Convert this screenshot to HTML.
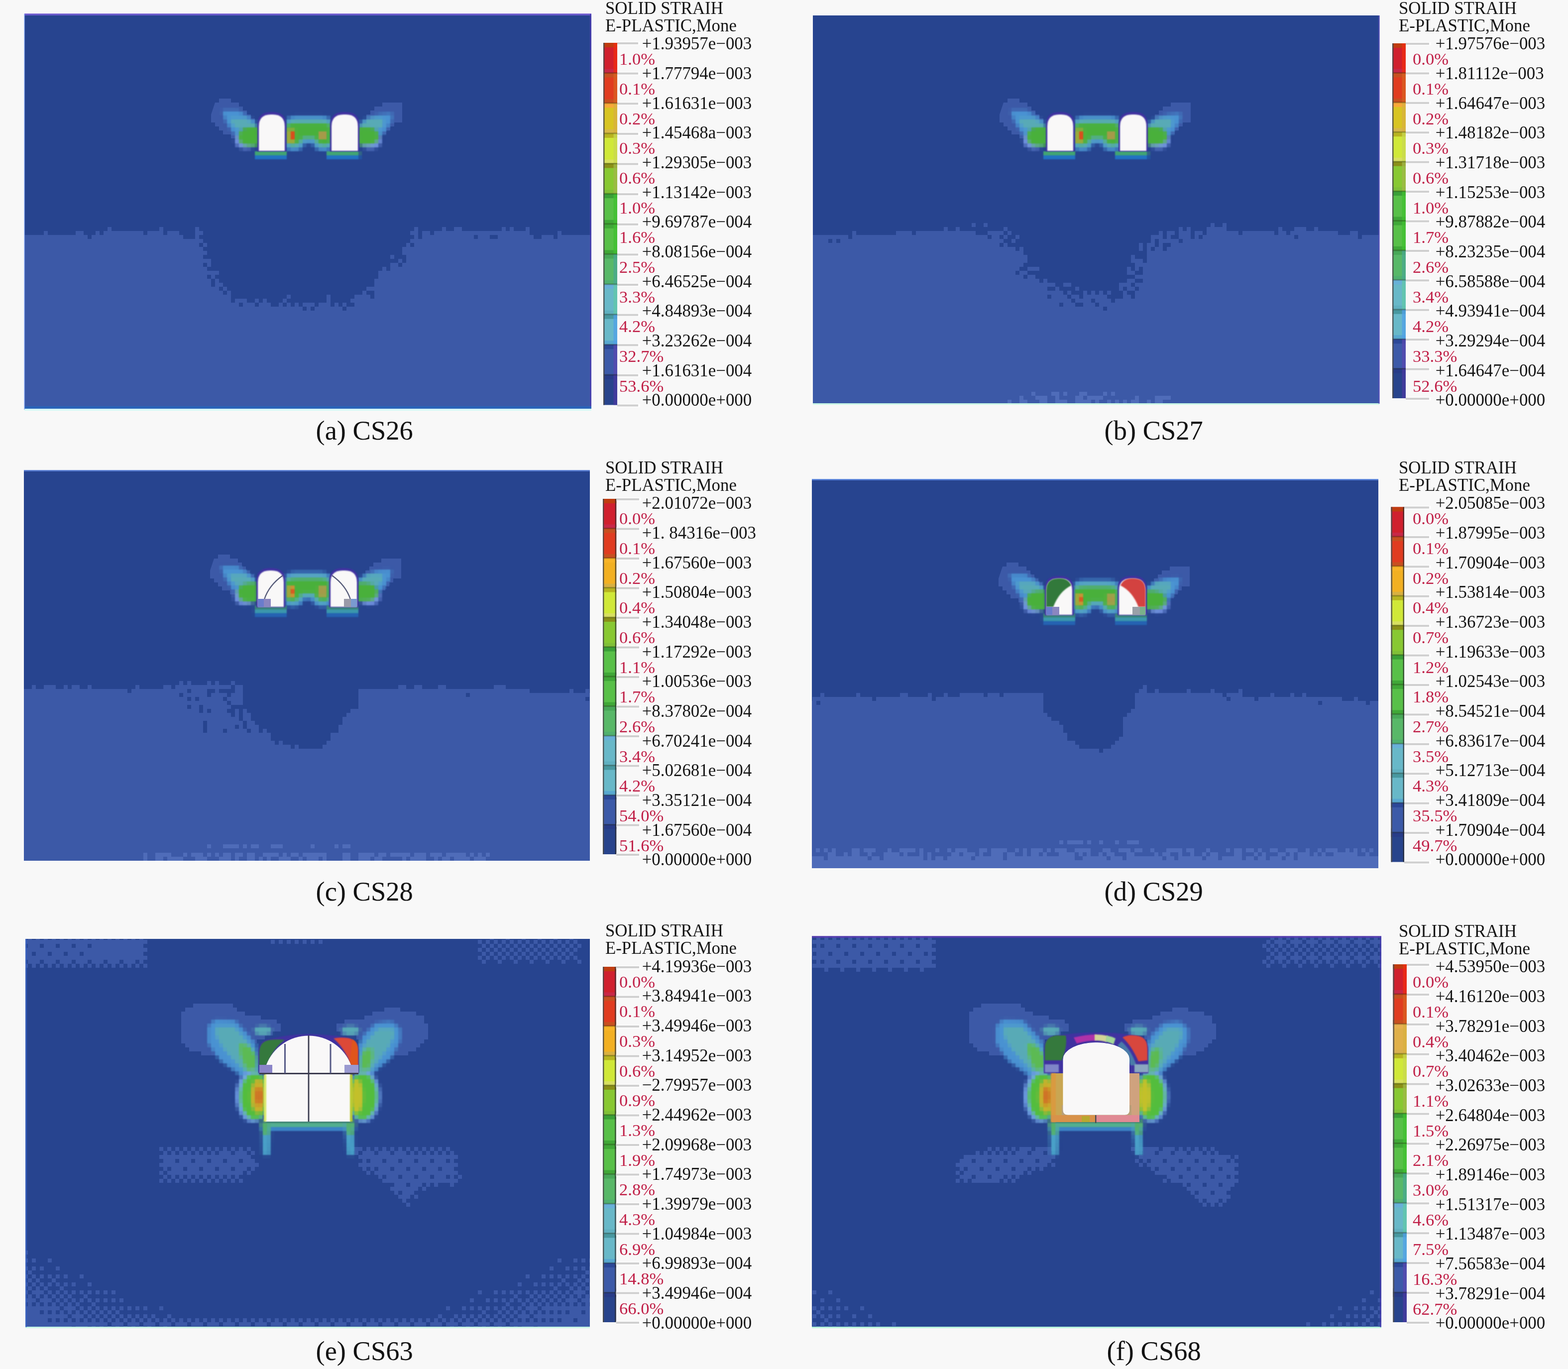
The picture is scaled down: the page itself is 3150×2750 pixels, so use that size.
<!DOCTYPE html>
<html lang="en"><head><meta charset="utf-8"><title>Solid strain contour plots</title>
<style>
html,body{margin:0;padding:0;background:#f8f8f8;}
body{width:3150px;height:2750px;overflow:hidden;position:relative;font-family:"Liberation Serif",serif;}
svg{position:absolute;left:0;top:0;display:block;}
text{font-family:"Liberation Serif",serif;white-space:pre;}
</style></head><body>
<svg xmlns="http://www.w3.org/2000/svg" width="3150" height="2750" viewBox="0 0 3150 2750">
<defs>
<filter id="b1" x="-30%" y="-30%" width="160%" height="160%"><feGaussianBlur stdDeviation="1.2"/></filter>
<filter id="b2" x="-30%" y="-30%" width="160%" height="160%"><feGaussianBlur stdDeviation="2.5"/></filter>
<filter id="b4" x="-30%" y="-30%" width="160%" height="160%"><feGaussianBlur stdDeviation="4"/></filter>
</defs>
<rect x="0" y="0" width="3150" height="2750" fill="#f8f8f8"/>
<clipPath id="cpa"><rect x="49" y="28" width="1139" height="795"/></clipPath>
<rect x="49" y="28" width="1139" height="795" fill="#27448f"/>
<g clip-path="url(#cpa)">
<path fill="#3c59a7" d="M216 456h8v8h-8zM320 456h8v8h-8zM392 456h8v8h-8zM832 456h8v8h-8zM888 456h8v8h-8zM912 456h16v8h-16zM1008 456h8v8h-8zM1024 456h8v8h-8zM1056 456h8v8h-8zM88 464h8v8h-8zM152 464h16v8h-16zM192 464h8v8h-8zM208 464h80v8h-80zM296 464h32v8h-32zM336 464h24v8h-24zM392 464h16v8h-16zM824 464h16v8h-16zM848 464h16v8h-16zM872 464h192v8h-192zM1120 464h8v8h-8zM48 472h128v8h-128zM184 472h184v8h-184zM392 472h8v8h-8zM832 472h8v8h-8zM848 472h104v8h-104zM960 472h24v8h-24zM1000 472h72v8h-72zM1088 472h24v8h-24zM1120 472h72v8h-72zM48 480h360v8h-360zM824 480h368v8h-368zM48 488h352v8h-352zM408 488h8v8h-8zM816 488h8v8h-8zM832 488h360v8h-360zM48 496h360v8h-360zM808 496h384v8h-384zM48 504h368v8h-368zM808 504h384v8h-384zM48 512h360v8h-360zM784 512h8v8h-8zM816 512h376v8h-376zM48 520h376v8h-376zM800 520h8v8h-8zM816 520h376v8h-376zM48 528h360v8h-360zM416 528h8v8h-8zM784 528h16v8h-16zM808 528h384v8h-384zM48 536h368v8h-368zM768 536h8v8h-8zM784 536h408v8h-408zM48 544h392v8h-392zM760 544h432v8h-432zM48 552h368v8h-368zM424 552h8v8h-8zM760 552h432v8h-432zM48 560h376v8h-376zM432 560h8v8h-8zM752 560h440v8h-440zM48 568h376v8h-376zM432 568h16v8h-16zM752 568h440v8h-440zM48 576h392v8h-392zM448 576h8v8h-8zM736 576h456v8h-456zM48 584h400v8h-400zM456 584h8v8h-8zM728 584h8v8h-8zM752 584h440v8h-440zM48 592h416v8h-416zM576 592h8v8h-8zM656 592h8v8h-8zM712 592h32v8h-32zM752 592h440v8h-440zM48 600h416v8h-416zM472 600h24v8h-24zM512 600h8v8h-8zM528 600h8v8h-8zM568 600h8v8h-8zM656 600h8v8h-8zM704 600h488v8h-488zM48 608h432v8h-432zM488 608h24v8h-24zM520 608h24v8h-24zM560 608h8v8h-8zM576 608h8v8h-8zM592 608h8v8h-8zM608 608h24v8h-24zM640 608h24v8h-24zM672 608h8v8h-8zM688 608h8v8h-8zM712 608h480v8h-480zM48 616h560v8h-560zM616 616h8v8h-8zM632 616h56v8h-56zM696 616h496v8h-496zM48 624h1144v8h-1144zM48 632h1144v8h-1144zM48 640h1144v8h-1144zM48 648h1144v8h-1144zM48 656h1144v8h-1144zM48 664h1144v8h-1144zM48 672h1144v8h-1144zM48 680h1144v8h-1144zM48 688h1144v8h-1144zM48 696h1144v8h-1144zM48 704h1144v8h-1144zM48 712h1144v8h-1144zM48 720h1144v8h-1144zM48 728h1144v8h-1144zM48 736h1144v8h-1144zM48 744h1144v8h-1144zM48 752h1144v8h-1144zM48 760h1144v8h-1144zM48 768h1144v8h-1144zM48 776h1144v8h-1144zM48 784h1144v8h-1144zM48 792h1144v8h-1144zM48 800h1144v8h-1144zM48 808h1144v8h-1144zM48 816h1144v8h-1144z"/>
<g transform="translate(520,230)">
<path d="M-88 -24H-80V-32H-72V-32H-64V-32H-56V-24H-48V-24H-40V-16H-32V-8H-24V0H-16V8H-8V16H-8V40H-16V40H-24V40H-32V48H-40V48H-48V48H-56V40H-64V40H-72V32H-80V24H-88V16H-96V8H-96V0Z" fill="#3c59a7"/>
<path d="M208 16H216V8H216V0H224V-8H232V-16H240V-16H248V-24H280V-24H288V-16H288V16H280V16H272V24H264V32H256V40H248V40H240V48H232V48H224V48H216V40H208V40Z" fill="#3c59a7"/>
<defs><filter id="px520_230" filterUnits="userSpaceOnUse" x="-112" y="-54" width="424" height="160" color-interpolation-filters="sRGB"><feFlood x="-109" y="-51" width="2" height="2" flood-color="#000"/><feComposite width="8" height="8"/><feTile result="a"/><feComposite in="SourceGraphic" in2="a" operator="in"/><feMorphology operator="dilate" radius="3"/><feGaussianBlur stdDeviation="1.1"/></filter></defs>
<g filter="url(#px520_230)">
<g filter="url(#b2)">
<polygon points="-74,-8 -42,-8 -18,6 -4,18 -4,30 -30,30 -44,46 -56,30 -66,14" fill="#4a92d2"/>
<polygon points="-58,8 -26,8 -6,22 -6,30 -40,30 -52,22" fill="#58aab6"/>
<polygon points="268,-2 240,0 216,8 202,18 202,30 230,30 244,44 256,30 266,14" fill="#4a92d2"/>
<polygon points="250,8 222,8 204,22 204,30 240,30 250,22" fill="#58aab6"/>
<ellipse cx="-26" cy="52" rx="22" ry="17" fill="#7393e4"/>
<ellipse cx="224" cy="52" rx="22" ry="17" fill="#7393e4"/>
<path d="M54 16Q56 4 74 3H126Q144 4 146 16V66Q140 74 124 72Q112 70 108 58H92Q88 70 76 72Q60 74 54 66Z" fill="#4a92d2"/>
<path d="M56 20Q58 10 76 9H124Q142 10 144 20V60Q138 68 124 66Q114 62 110 52H90Q86 62 76 66Q62 68 56 60Z" fill="#58aab6"/>
</g>
<g filter="url(#b2)">
<path d="M0 25H-16Q-40 27 -41 44Q-40 62 -20 63H0Z" fill="#49b03a"/>
<path d="M199 25H216Q240 27 241 44Q240 60 220 61H199Z" fill="#49b03a"/>
<path d="M56 24Q58 17 76 17H124Q142 17 144 24V56Q138 62 126 60Q116 56 112 46H88Q84 56 74 60Q62 62 56 56Z" fill="#49b03a"/>
</g>
<g filter="url(#b1)">
<rect x="58" y="30" width="16" height="26" fill="#9aa83a"/>
<rect x="64" y="34" width="8" height="16" fill="#d8501c"/>
<rect x="120" y="33" width="16" height="18" fill="#a59a48"/>
<rect x="-8" y="74" width="65" height="9" fill="#43a472"/>
<rect x="-8" y="82" width="65" height="8" fill="#2272c2"/>
<rect x="137" y="74" width="66" height="9" fill="#43a472"/>
<rect x="137" y="82" width="66" height="8" fill="#2272c2"/>
</g>
</g>
<path d="M-3 74V22Q-3 -5 24 -5H28Q55 -5 55 22V74Z" fill="#4030a0" filter="url(#b1)"/>
<path d="M0 73V24Q0 0 24 0H28Q52 0 52 24V73Z" fill="#f9f8f8" filter="url(#b1)"/>
<path d="M143 74V22Q143 -5 170 -5H175Q202 -5 202 22V74Z" fill="#4030a0" filter="url(#b1)"/>
<path d="M146 73V24Q146 0 170 0H175Q199 0 199 24V73Z" fill="#f9f8f8" filter="url(#b1)"/>
</g>
</g>
<rect x="49" y="27" width="1139" height="4" fill="#7a5fd8" opacity="0.8"/>
<rect x="1185" y="28" width="3" height="795" fill="#4a3cb0" opacity="0.8"/>
<rect x="49" y="816" width="1139" height="5" fill="#2a63b8"/>
<rect x="49" y="821" width="1139" height="4" fill="#d8fdf6"/>
<rect x="48" y="28" width="2" height="795" fill="#8fb0f8" opacity="0.7"/>
<clipPath id="cpb"><rect x="1633" y="31" width="1138" height="780"/></clipPath>
<rect x="1633" y="31" width="1138" height="780" fill="#27448f"/>
<g clip-path="url(#cpb)">
<path fill="#3c59a7" d="M1952 448h8v8h-8zM1976 448h8v8h-8zM2432 448h8v8h-8zM2456 448h8v8h-8zM1896 456h8v8h-8zM1920 456h8v8h-8zM2016 456h8v8h-8zM2368 456h8v8h-8zM2384 456h8v8h-8zM2424 456h40v8h-40zM2568 456h8v8h-8zM2600 456h24v8h-24zM2640 456h8v8h-8zM1712 464h8v8h-8zM1800 464h32v8h-32zM1840 464h120v8h-120zM1984 464h32v8h-32zM2024 464h8v8h-8zM2328 464h8v8h-8zM2344 464h16v8h-16zM2368 464h24v8h-24zM2400 464h16v8h-16zM2424 464h64v8h-64zM2496 464h64v8h-64zM2568 464h16v8h-16zM2592 464h96v8h-96zM2712 464h16v8h-16zM1632 472h72v8h-72zM1712 472h272v8h-272zM1992 472h16v8h-16zM2016 472h8v8h-8zM2040 472h8v8h-8zM2312 472h24v8h-24zM2344 472h8v8h-8zM2368 472h24v8h-24zM2400 472h8v8h-8zM2416 472h184v8h-184zM2608 472h120v8h-120zM2736 472h40v8h-40zM1632 480h32v8h-32zM1672 480h8v8h-8zM1688 480h328v8h-328zM2032 480h8v8h-8zM2312 480h8v8h-8zM2328 480h40v8h-40zM2376 480h400v8h-400zM1632 488h376v8h-376zM2016 488h8v8h-8zM2288 488h8v8h-8zM2304 488h16v8h-16zM2328 488h8v8h-8zM2352 488h424v8h-424zM1632 496h408v8h-408zM2048 496h8v8h-8zM2288 496h8v8h-8zM2304 496h8v8h-8zM2320 496h16v8h-16zM2344 496h432v8h-432zM1632 504h424v8h-424zM2304 504h472v8h-472zM1632 512h432v8h-432zM2272 512h8v8h-8zM2304 512h472v8h-472zM1632 520h432v8h-432zM2272 520h24v8h-24zM2304 520h472v8h-472zM1632 528h424v8h-424zM2280 528h496v8h-496zM1632 536h416v8h-416zM2064 536h24v8h-24zM2264 536h8v8h-8zM2280 536h8v8h-8zM2296 536h480v8h-480zM1632 544h408v8h-408zM2048 544h16v8h-16zM2264 544h16v8h-16zM2296 544h480v8h-480zM1632 552h424v8h-424zM2064 552h16v8h-16zM2280 552h496v8h-496zM1632 560h456v8h-456zM2096 560h8v8h-8zM2264 560h16v8h-16zM2296 560h480v8h-480zM1632 568h488v8h-488zM2136 568h16v8h-16zM2248 568h24v8h-24zM2280 568h496v8h-496zM1632 576h472v8h-472zM2120 576h8v8h-8zM2160 576h8v8h-8zM2248 576h8v8h-8zM2264 576h16v8h-16zM2288 576h488v8h-488zM1632 584h504v8h-504zM2144 584h8v8h-8zM2176 584h8v8h-8zM2192 584h8v8h-8zM2208 584h8v8h-8zM2224 584h8v8h-8zM2256 584h8v8h-8zM2280 584h496v8h-496zM1632 592h472v8h-472zM2112 592h32v8h-32zM2152 592h16v8h-16zM2176 592h48v8h-48zM2256 592h16v8h-16zM2280 592h496v8h-496zM1632 600h520v8h-520zM2160 600h32v8h-32zM2200 600h32v8h-32zM2240 600h536v8h-536zM1632 608h496v8h-496zM2136 608h24v8h-24zM2176 608h24v8h-24zM2208 608h568v8h-568zM1632 616h584v8h-584zM2224 616h552v8h-552zM1632 624h1144v8h-1144zM1632 632h1144v8h-1144zM1632 640h1144v8h-1144zM1632 648h1144v8h-1144zM1632 656h1144v8h-1144zM1632 664h1144v8h-1144zM1632 672h1144v8h-1144zM1632 680h1144v8h-1144zM1632 688h1144v8h-1144zM1632 696h1144v8h-1144zM1632 704h1144v8h-1144zM1632 712h1144v8h-1144zM1632 720h1144v8h-1144zM1632 728h1144v8h-1144zM1632 736h1144v8h-1144zM1632 744h1144v8h-1144zM1632 752h1144v8h-1144zM1632 760h1144v8h-1144zM1632 768h1144v8h-1144zM1632 776h1144v8h-1144zM1632 784h1144v8h-1144zM1632 792h1144v8h-1144zM1632 800h1144v8h-1144zM1632 808h1144v8h-1144z"/>
<g transform="translate(2104,230)">
<path d="M-88 -24H-80V-32H-72V-32H-64V-32H-56V-24H-48V-24H-40V-16H-32V-8H-24V0H-16V8H-8V16H-8V40H-16V40H-24V40H-32V48H-40V48H-48V48H-56V40H-64V40H-72V32H-80V24H-88V16H-96V8H-96V0Z" fill="#3c59a7"/>
<path d="M208 16H216V8H216V0H224V-8H232V-16H240V-16H248V-24H280V-24H288V-16H288V16H280V16H272V24H264V32H256V40H248V40H240V48H232V48H224V48H216V40H208V40Z" fill="#3c59a7"/>
<defs><filter id="px2104_230" filterUnits="userSpaceOnUse" x="-112" y="-54" width="424" height="160" color-interpolation-filters="sRGB"><feFlood x="-109" y="-51" width="2" height="2" flood-color="#000"/><feComposite width="8" height="8"/><feTile result="a"/><feComposite in="SourceGraphic" in2="a" operator="in"/><feMorphology operator="dilate" radius="3"/><feGaussianBlur stdDeviation="1.1"/></filter></defs>
<g filter="url(#px2104_230)">
<g filter="url(#b2)">
<polygon points="-74,-8 -42,-8 -18,6 -4,18 -4,30 -30,30 -44,46 -56,30 -66,14" fill="#4a92d2"/>
<polygon points="-58,8 -26,8 -6,22 -6,30 -40,30 -52,22" fill="#58aab6"/>
<polygon points="268,-2 240,0 216,8 202,18 202,30 230,30 244,44 256,30 266,14" fill="#4a92d2"/>
<polygon points="250,8 222,8 204,22 204,30 240,30 250,22" fill="#58aab6"/>
<ellipse cx="-26" cy="52" rx="22" ry="17" fill="#7393e4"/>
<ellipse cx="224" cy="52" rx="22" ry="17" fill="#7393e4"/>
<path d="M54 16Q56 4 74 3H126Q144 4 146 16V66Q140 74 124 72Q112 70 108 58H92Q88 70 76 72Q60 74 54 66Z" fill="#4a92d2"/>
<path d="M56 20Q58 10 76 9H124Q142 10 144 20V60Q138 68 124 66Q114 62 110 52H90Q86 62 76 66Q62 68 56 60Z" fill="#58aab6"/>
</g>
<g filter="url(#b2)">
<path d="M0 25H-16Q-40 27 -41 44Q-40 62 -20 63H0Z" fill="#49b03a"/>
<path d="M199 25H216Q240 27 241 44Q240 60 220 61H199Z" fill="#49b03a"/>
<path d="M56 24Q58 17 76 17H124Q142 17 144 24V56Q138 62 126 60Q116 56 112 46H88Q84 56 74 60Q62 62 56 56Z" fill="#49b03a"/>
</g>
<g filter="url(#b1)">
<rect x="58" y="30" width="16" height="26" fill="#9aa83a"/>
<rect x="64" y="34" width="8" height="16" fill="#d8501c"/>
<rect x="120" y="33" width="16" height="18" fill="#a59a48"/>
<rect x="-8" y="74" width="65" height="9" fill="#43a472"/>
<rect x="-8" y="82" width="65" height="8" fill="#2272c2"/>
<rect x="137" y="74" width="66" height="9" fill="#43a472"/>
<rect x="137" y="82" width="66" height="8" fill="#2272c2"/>
</g>
</g>
<path d="M-3 74V22Q-3 -5 24 -5H28Q55 -5 55 22V74Z" fill="#4030a0" filter="url(#b1)"/>
<path d="M0 73V24Q0 0 24 0H28Q52 0 52 24V73Z" fill="#f9f8f8" filter="url(#b1)"/>
<path d="M143 74V22Q143 -5 170 -5H175Q202 -5 202 22V74Z" fill="#4030a0" filter="url(#b1)"/>
<path d="M146 73V24Q146 0 170 0H175Q199 0 199 24V73Z" fill="#f9f8f8" filter="url(#b1)"/>
</g>
<path fill="#4f6cb9" d="M2048 795h8v8h-8zM2080 795h24v8h-24zM2120 795h8v8h-8zM2160 795h16v8h-16zM2184 795h32v8h-32zM2280 795h8v8h-8zM2320 795h32v8h-32zM2024 803h8v8h-8zM2048 803h16v8h-16zM2088 803h16v8h-16zM2120 803h24v8h-24zM2160 803h32v8h-32zM2200 803h8v8h-8zM2224 803h8v8h-8zM2240 803h8v8h-8zM2256 803h8v8h-8zM2272 803h16v8h-16zM2304 803h8v8h-8zM2320 803h16v8h-16z"/>
<path fill="#4f6cb9" d="M2072 787h8v8h-8zM2112 787h16v8h-16zM2136 787h8v8h-8zM2168 787h16v8h-16zM2216 787h8v8h-8zM2232 787h8v8h-8z"/>
</g>
<rect x="1633" y="810" width="1138" height="3" fill="#c9f7e6"/>
<rect x="2769" y="31" width="3" height="780" fill="#5a4cc0" opacity="0.6"/>
<clipPath id="cpc"><rect x="48" y="945" width="1137" height="784"/></clipPath>
<rect x="48" y="945" width="1137" height="784" fill="#27448f"/>
<g clip-path="url(#cpc)">
<path fill="#3c59a7" d="M360 1368h8v8h-8zM376 1368h8v8h-8zM416 1368h8v8h-8zM432 1368h8v8h-8zM464 1368h8v8h-8zM64 1376h8v8h-8zM88 1376h24v8h-24zM128 1376h8v8h-8zM144 1376h16v8h-16zM176 1376h8v8h-8zM272 1376h8v8h-8zM328 1376h16v8h-16zM352 1376h112v8h-112zM472 1376h16v8h-16zM800 1376h16v8h-16zM832 1376h16v8h-16zM880 1376h16v8h-16zM992 1376h24v8h-24zM48 1384h208v8h-208zM264 1384h112v8h-112zM384 1384h56v8h-56zM448 1384h8v8h-8zM464 1384h24v8h-24zM720 1384h344v8h-344zM1144 1384h8v8h-8zM1176 1384h8v8h-8zM48 1392h440v8h-440zM720 1392h216v8h-216zM944 1392h248v8h-248zM48 1400h440v8h-440zM720 1400h456v8h-456zM1184 1400h8v8h-8zM48 1408h448v8h-448zM720 1408h472v8h-472zM48 1416h448v8h-448zM720 1416h472v8h-472zM48 1424h448v8h-448zM704 1424h488v8h-488zM48 1432h456v8h-456zM696 1432h496v8h-496zM48 1440h456v8h-456zM688 1440h504v8h-504zM48 1448h464v8h-464zM688 1448h504v8h-504zM48 1456h472v8h-472zM680 1456h512v8h-512zM48 1464h472v8h-472zM528 1464h8v8h-8zM680 1464h512v8h-512zM48 1472h496v8h-496zM664 1472h528v8h-528zM48 1480h496v8h-496zM664 1480h528v8h-528zM48 1488h504v8h-504zM560 1488h8v8h-8zM656 1488h536v8h-536zM48 1496h536v8h-536zM592 1496h8v8h-8zM648 1496h544v8h-544zM48 1504h1144v8h-1144zM48 1512h1144v8h-1144zM48 1520h1144v8h-1144zM48 1528h1144v8h-1144zM48 1536h1144v8h-1144zM48 1544h1144v8h-1144zM48 1552h1144v8h-1144zM48 1560h1144v8h-1144zM48 1568h1144v8h-1144zM48 1576h1144v8h-1144zM48 1584h1144v8h-1144zM48 1592h1144v8h-1144zM48 1600h1144v8h-1144zM48 1608h1144v8h-1144zM48 1616h1144v8h-1144zM48 1624h1144v8h-1144zM48 1632h1144v8h-1144zM48 1640h1144v8h-1144zM48 1648h1144v8h-1144zM48 1656h1144v8h-1144zM48 1664h1144v8h-1144zM48 1672h1144v8h-1144zM48 1680h1144v8h-1144zM48 1688h1144v8h-1144zM48 1696h1144v8h-1144zM48 1704h1144v8h-1144zM48 1712h1144v8h-1144zM48 1720h1144v8h-1144zM48 1728h1144v8h-1144z"/>
<path fill="#27448f" d="M416 1384h16v8h-16zM448 1384h8v8h-8zM464 1384h8v8h-8zM360 1392h8v8h-8zM416 1392h8v8h-8zM456 1392h8v8h-8zM488 1392h8v8h-8zM376 1400h8v8h-8zM392 1400h8v8h-8zM448 1400h8v8h-8zM488 1400h8v8h-8zM456 1408h8v8h-8zM488 1408h8v8h-8zM376 1416h8v8h-8zM400 1416h8v8h-8zM464 1416h40v8h-40zM400 1424h8v8h-8zM416 1424h8v8h-8zM456 1424h16v8h-16zM480 1424h8v8h-8zM496 1424h8v8h-8zM464 1432h8v8h-8zM480 1432h8v8h-8zM480 1440h8v8h-8zM408 1448h8v8h-8zM488 1448h8v8h-8zM408 1456h8v8h-8zM472 1456h8v8h-8zM488 1456h8v8h-8zM408 1464h8v8h-8zM448 1464h8v8h-8zM496 1464h8v8h-8z"/>
<g transform="translate(518,1146)">
<path d="M-88 -24H-80V-32H-72V-32H-64V-32H-56V-24H-48V-24H-40V-16H-32V-8H-24V0H-16V8H-8V16H-8V40H-16V40H-24V40H-32V48H-40V48H-48V48H-56V40H-64V40H-72V32H-80V24H-88V16H-96V8H-96V0Z" fill="#3c59a7"/>
<path d="M208 16H216V8H216V0H224V-8H232V-16H240V-16H248V-24H280V-24H288V-16H288V16H280V16H272V24H264V32H256V40H248V40H240V48H232V48H224V48H216V40H208V40Z" fill="#3c59a7"/>
<defs><filter id="px518_1146" filterUnits="userSpaceOnUse" x="-118" y="-50" width="424" height="160" color-interpolation-filters="sRGB"><feFlood x="-115" y="-47" width="2" height="2" flood-color="#000"/><feComposite width="8" height="8"/><feTile result="a"/><feComposite in="SourceGraphic" in2="a" operator="in"/><feMorphology operator="dilate" radius="3"/><feGaussianBlur stdDeviation="1.1"/></filter></defs>
<g filter="url(#px518_1146)">
<g filter="url(#b2)">
<polygon points="-74,-8 -42,-8 -18,6 -4,18 -4,30 -30,30 -44,46 -56,30 -66,14" fill="#4a92d2"/>
<polygon points="-58,8 -26,8 -6,22 -6,30 -40,30 -52,22" fill="#58aab6"/>
<polygon points="268,-2 240,0 216,8 202,18 202,30 230,30 244,44 256,30 266,14" fill="#4a92d2"/>
<polygon points="250,8 222,8 204,22 204,30 240,30 250,22" fill="#58aab6"/>
<ellipse cx="-26" cy="52" rx="22" ry="17" fill="#7393e4"/>
<ellipse cx="224" cy="52" rx="22" ry="17" fill="#7393e4"/>
<path d="M54 16Q56 4 74 3H126Q144 4 146 16V66Q140 74 124 72Q112 70 108 58H92Q88 70 76 72Q60 74 54 66Z" fill="#4a92d2"/>
<path d="M56 20Q58 10 76 9H124Q142 10 144 20V60Q138 68 124 66Q114 62 110 52H90Q86 62 76 66Q62 68 56 60Z" fill="#58aab6"/>
</g>
<g filter="url(#b2)">
<path d="M0 25H-16Q-40 27 -41 44Q-40 62 -20 63H0Z" fill="#49b03a"/>
<path d="M199 25H216Q240 27 241 44Q240 60 220 61H199Z" fill="#49b03a"/>
<path d="M56 24Q58 17 76 17H124Q142 17 144 24V56Q138 62 126 60Q116 56 112 46H88Q84 56 74 60Q62 62 56 56Z" fill="#49b03a"/>
</g>
<g filter="url(#b1)">
<rect x="58" y="30" width="16" height="26" fill="#9aa83a"/>
<rect x="64" y="34" width="8" height="16" fill="#d8501c"/>
<rect x="120" y="33" width="16" height="18" fill="#a59a48"/>
<rect x="-8" y="74" width="65" height="9" fill="#43a472"/>
<rect x="-8" y="82" width="65" height="8" fill="#2272c2"/>
<rect x="137" y="74" width="66" height="9" fill="#43a472"/>
<rect x="137" y="82" width="66" height="8" fill="#2272c2"/>
</g>
</g>
<path d="M-3 74V22Q-3 -5 24 -5H28Q55 -5 55 22V74Z" fill="#4030a0" filter="url(#b1)"/>
<path d="M0 73V24Q0 0 24 0H28Q52 0 52 24V73Z" fill="#f9f8f8" filter="url(#b1)"/>
<path d="M143 74V22Q143 -5 170 -5H175Q202 -5 202 22V74Z" fill="#4030a0" filter="url(#b1)"/>
<path d="M146 73V24Q146 0 170 0H175Q199 0 199 24V73Z" fill="#f9f8f8" filter="url(#b1)"/>
<g fill="none" stroke="#555a78" stroke-width="2.2">
<path d="M13 58Q22 30 50 10"/>
<path d="M186 58Q177 30 149 10"/>
</g>
<rect x="0" y="57" width="26" height="16" fill="#6a7ccc"/>
<rect x="12" y="57" width="14" height="16" fill="#8a86c0"/>
<rect x="173" y="57" width="26" height="16" fill="#7a9ad0"/>
<rect x="173" y="57" width="14" height="16" fill="#9a9aa8"/>
</g>
<path fill="#4f6cb9" d="M288 1713h8v8h-8zM312 1713h32v8h-32zM368 1713h8v8h-8zM384 1713h24v8h-24zM416 1713h8v8h-8zM432 1713h8v8h-8zM448 1713h16v8h-16zM472 1713h16v8h-16zM496 1713h16v8h-16zM528 1713h32v8h-32zM568 1713h8v8h-8zM584 1713h16v8h-16zM608 1713h48v8h-48zM688 1713h16v8h-16zM720 1713h32v8h-32zM760 1713h16v8h-16zM784 1713h40v8h-40zM832 1713h24v8h-24zM864 1713h24v8h-24zM896 1713h40v8h-40zM944 1713h8v8h-8zM960 1713h8v8h-8zM976 1713h8v8h-8zM288 1721h8v8h-8zM312 1721h16v8h-16zM336 1721h32v8h-32zM392 1721h24v8h-24zM440 1721h24v8h-24zM472 1721h8v8h-8zM496 1721h16v8h-16zM520 1721h8v8h-8zM536 1721h8v8h-8zM560 1721h24v8h-24zM600 1721h8v8h-8zM616 1721h24v8h-24zM648 1721h8v8h-8zM688 1721h16v8h-16zM720 1721h24v8h-24zM752 1721h16v8h-16zM808 1721h8v8h-8zM824 1721h32v8h-32zM872 1721h8v8h-8zM888 1721h16v8h-16zM912 1721h32v8h-32zM952 1721h24v8h-24z"/>
<path fill="#4f6cb9" d="M416 1696h8v8h-8zM448 1696h32v8h-32zM488 1696h8v8h-8zM504 1696h16v8h-16zM544 1696h24v8h-24zM624 1696h8v8h-8zM672 1696h8v8h-8zM688 1696h16v8h-16z"/>
</g>
<rect x="48" y="944" width="1137" height="3" fill="#5a7fd8" opacity="0.8"/>
<clipPath id="cpd"><rect x="1631" y="963" width="1138" height="781"/></clipPath>
<rect x="1631" y="963" width="1138" height="781" fill="#27448f"/>
<g clip-path="url(#cpd)">
<path fill="#3c59a7" d="M2296 1376h8v8h-8zM2288 1384h16v8h-16zM2320 1384h8v8h-8zM2384 1384h8v8h-8zM2432 1384h8v8h-8zM2488 1384h8v8h-8zM1648 1392h8v8h-8zM1720 1392h8v8h-8zM1808 1392h16v8h-16zM1864 1392h8v8h-8zM1896 1392h8v8h-8zM1928 1392h48v8h-48zM1984 1392h24v8h-24zM2016 1392h80v8h-80zM2280 1392h176v8h-176zM2464 1392h32v8h-32zM2552 1392h8v8h-8zM2592 1392h8v8h-8zM2616 1392h8v8h-8zM1632 1400h120v8h-120zM1760 1400h112v8h-112zM1880 1400h216v8h-216zM2280 1400h184v8h-184zM2472 1400h48v8h-48zM2528 1400h168v8h-168zM2720 1400h8v8h-8zM1624 1408h16v8h-16zM1648 1408h448v8h-448zM2280 1408h368v8h-368zM2656 1408h88v8h-88zM2752 1408h24v8h-24zM1624 1416h472v8h-472zM2280 1416h496v8h-496zM1624 1424h472v8h-472zM2272 1424h504v8h-504zM1624 1432h480v8h-480zM2264 1432h512v8h-512zM1624 1440h488v8h-488zM2256 1440h520v8h-520zM1624 1448h504v8h-504zM2256 1448h520v8h-520zM1624 1456h512v8h-512zM2256 1456h520v8h-520zM1624 1464h512v8h-512zM2256 1464h520v8h-520zM1624 1472h520v8h-520zM2256 1472h520v8h-520zM1624 1480h520v8h-520zM2248 1480h528v8h-528zM1624 1488h536v8h-536zM2240 1488h536v8h-536zM1624 1496h544v8h-544zM2232 1496h544v8h-544zM1624 1504h584v8h-584zM2216 1504h560v8h-560zM1624 1512h1152v8h-1152zM1624 1520h1152v8h-1152zM1624 1528h1152v8h-1152zM1624 1536h1152v8h-1152zM1624 1544h1152v8h-1152zM1624 1552h1152v8h-1152zM1624 1560h1152v8h-1152zM1624 1568h1152v8h-1152zM1624 1576h1152v8h-1152zM1624 1584h1152v8h-1152zM1624 1592h1152v8h-1152zM1624 1600h1152v8h-1152zM1624 1608h1152v8h-1152zM1624 1616h1152v8h-1152zM1624 1624h1152v8h-1152zM1624 1632h1152v8h-1152zM1624 1640h1152v8h-1152zM1624 1648h1152v8h-1152zM1624 1656h1152v8h-1152zM1624 1664h1152v8h-1152zM1624 1672h1152v8h-1152zM1624 1680h1152v8h-1152zM1624 1688h1152v8h-1152zM1624 1696h1152v8h-1152zM1624 1704h1152v8h-1152zM1624 1712h1152v8h-1152zM1624 1720h1152v8h-1152zM1624 1728h1152v8h-1152zM1624 1736h1152v8h-1152z"/>
<g transform="translate(2102,1162)">
<path d="M-88 -24H-80V-32H-72V-32H-64V-32H-56V-24H-48V-24H-40V-16H-32V-8H-24V0H-16V8H-8V16H-8V40H-16V40H-24V40H-32V48H-40V48H-48V48H-56V40H-64V40H-72V32H-80V24H-88V16H-96V8H-96V0Z" fill="#3c59a7"/>
<path d="M208 16H216V8H216V0H224V-8H232V-16H240V-16H248V-24H280V-24H288V-16H288V16H280V16H272V24H264V32H256V40H248V40H240V48H232V48H224V48H216V40H208V40Z" fill="#3c59a7"/>
<defs><filter id="px2102_1162" filterUnits="userSpaceOnUse" x="-118" y="-50" width="424" height="160" color-interpolation-filters="sRGB"><feFlood x="-115" y="-47" width="2" height="2" flood-color="#000"/><feComposite width="8" height="8"/><feTile result="a"/><feComposite in="SourceGraphic" in2="a" operator="in"/><feMorphology operator="dilate" radius="3"/><feGaussianBlur stdDeviation="1.1"/></filter></defs>
<g filter="url(#px2102_1162)">
<g filter="url(#b2)">
<polygon points="-74,-8 -42,-8 -18,6 -4,18 -4,30 -30,30 -44,46 -56,30 -66,14" fill="#4a92d2"/>
<polygon points="-58,8 -26,8 -6,22 -6,30 -40,30 -52,22" fill="#58aab6"/>
<polygon points="268,-2 240,0 216,8 202,18 202,30 230,30 244,44 256,30 266,14" fill="#4a92d2"/>
<polygon points="250,8 222,8 204,22 204,30 240,30 250,22" fill="#58aab6"/>
<ellipse cx="-26" cy="52" rx="22" ry="17" fill="#7393e4"/>
<ellipse cx="224" cy="52" rx="22" ry="17" fill="#7393e4"/>
<path d="M54 16Q56 4 74 3H126Q144 4 146 16V66Q140 74 124 72Q112 70 108 58H92Q88 70 76 72Q60 74 54 66Z" fill="#4a92d2"/>
<path d="M56 20Q58 10 76 9H124Q142 10 144 20V60Q138 68 124 66Q114 62 110 52H90Q86 62 76 66Q62 68 56 60Z" fill="#58aab6"/>
</g>
<g filter="url(#b2)">
<path d="M0 25H-16Q-40 27 -41 44Q-40 62 -20 63H0Z" fill="#49b03a"/>
<path d="M199 25H216Q240 27 241 44Q240 60 220 61H199Z" fill="#49b03a"/>
<path d="M56 24Q58 17 76 17H124Q142 17 144 24V56Q138 62 126 60Q116 56 112 46H88Q84 56 74 60Q62 62 56 56Z" fill="#49b03a"/>
</g>
<g filter="url(#b1)">
<rect x="58" y="30" width="16" height="26" fill="#9aa83a"/>
<rect x="64" y="34" width="8" height="16" fill="#d8501c"/>
<rect x="120" y="33" width="16" height="18" fill="#a59a48"/>
<rect x="-8" y="74" width="65" height="9" fill="#43a472"/>
<rect x="-8" y="82" width="65" height="8" fill="#2272c2"/>
<rect x="137" y="74" width="66" height="9" fill="#43a472"/>
<rect x="137" y="82" width="66" height="8" fill="#2272c2"/>
</g>
</g>
<path d="M-3 74V22Q-3 -5 24 -5H28Q55 -5 55 22V74Z" fill="#4030a0" filter="url(#b1)"/>
<path d="M0 73V24Q0 0 24 0H28Q52 0 52 24V73Z" fill="#f9f8f8" filter="url(#b1)"/>
<path d="M143 74V22Q143 -5 170 -5H175Q202 -5 202 22V74Z" fill="#4030a0" filter="url(#b1)"/>
<path d="M146 73V24Q146 0 170 0H175Q199 0 199 24V73Z" fill="#f9f8f8" filter="url(#b1)"/>
<g filter="url(#b1)">
<path d="M0 57V24Q0 0 24 0H28Q44 0 50 14Q26 26 14 57Z" fill="#33793a"/>
<path d="M199 57V24Q199 0 175 0H171Q155 0 149 14Q173 26 185 57Z" fill="#d3433f"/>
</g>
<rect x="0" y="57" width="26" height="16" fill="#6a7ccc"/>
<rect x="12" y="57" width="14" height="16" fill="#8a86c0"/>
<rect x="173" y="57" width="26" height="16" fill="#9aa0a8"/>
<rect x="188" y="57" width="11" height="16" fill="#7ab08a"/>
</g>
<rect x="1631" y="1728" width="1138" height="16" fill="#4f6cb9"/>
<path fill="#4f6cb9" d="M1631 1720h24v8h-24zM1663 1720h80v8h-80zM1751 1720h16v8h-16zM1775 1720h80v8h-80zM1863 1720h8v8h-8zM1879 1720h16v8h-16zM1903 1720h48v8h-48zM1959 1720h56v8h-56zM2023 1720h136v8h-136zM2175 1720h48v8h-48zM2231 1720h24v8h-24zM2263 1720h72v8h-72zM2343 1720h16v8h-16zM2367 1720h48v8h-48zM2423 1720h24v8h-24zM2455 1720h40v8h-40zM2503 1720h16v8h-16zM2527 1720h16v8h-16zM2551 1720h24v8h-24zM2583 1720h16v8h-16zM2607 1720h168v8h-168z"/>
<path fill="#4f6cb9" d="M1639 1704h8v8h-8zM1655 1704h8v8h-8zM1671 1704h8v8h-8zM1711 1704h16v8h-16zM1735 1704h24v8h-24zM1783 1704h8v8h-8zM1807 1704h32v8h-32zM1847 1704h8v8h-8zM1879 1704h8v8h-8zM1903 1704h8v8h-8zM1919 1704h24v8h-24zM1967 1704h16v8h-16zM1991 1704h32v8h-32zM2039 1704h8v8h-8zM2055 1704h8v8h-8zM2071 1704h24v8h-24zM2103 1704h8v8h-8zM2119 1704h24v8h-24zM2159 1704h32v8h-32zM2215 1704h16v8h-16zM2247 1704h24v8h-24zM2279 1704h16v8h-16zM2311 1704h8v8h-8zM2343 1704h32v8h-32zM2383 1704h16v8h-16zM2423 1704h8v8h-8zM2463 1704h8v8h-8zM2479 1704h16v8h-16zM2503 1704h16v8h-16zM2527 1704h8v8h-8zM2551 1704h16v8h-16zM2583 1704h24v8h-24zM2623 1704h8v8h-8zM2647 1704h8v8h-8zM2663 1704h24v8h-24zM2703 1704h8v8h-8zM2719 1704h8v8h-8zM2735 1704h8v8h-8zM2751 1704h8v8h-8zM1663 1712h16v8h-16zM1695 1712h8v8h-8zM1711 1712h16v8h-16zM1743 1712h8v8h-8zM1775 1712h32v8h-32zM1815 1712h8v8h-8zM1847 1712h8v8h-8zM1863 1712h8v8h-8zM1911 1712h16v8h-16zM1935 1712h24v8h-24zM1967 1712h8v8h-8zM1991 1712h24v8h-24zM2023 1712h16v8h-16zM2055 1712h8v8h-8zM2071 1712h16v8h-16zM2095 1712h8v8h-8zM2127 1712h32v8h-32zM2167 1712h8v8h-8zM2183 1712h8v8h-8zM2207 1712h8v8h-8zM2223 1712h16v8h-16zM2263 1712h16v8h-16zM2319 1712h8v8h-8zM2335 1712h16v8h-16zM2367 1712h8v8h-8zM2391 1712h8v8h-8zM2415 1712h8v8h-8zM2431 1712h16v8h-16zM2479 1712h16v8h-16zM2519 1712h8v8h-8zM2535 1712h8v8h-8zM2567 1712h16v8h-16zM2591 1712h8v8h-8zM2607 1712h24v8h-24zM2639 1712h8v8h-8zM2655 1712h8v8h-8zM2679 1712h48v8h-48zM2743 1712h8v8h-8z"/>
<path fill="#4f6cb9" d="M2128 1688h8v8h-8zM2144 1688h32v8h-32zM2184 1688h8v8h-8zM2208 1688h8v8h-8zM2240 1688h8v8h-8zM2264 1688h24v8h-24z"/>
</g>
<rect x="1631" y="962" width="1138" height="3" fill="#5a86e0" opacity="0.8"/>
<clipPath id="cpe"><rect x="51" y="1886" width="1134" height="780"/></clipPath>
<rect x="51" y="1886" width="1134" height="780" fill="#27448f"/>
<g clip-path="url(#cpe)">
<path fill="#3c59a7" d="M56 1880h8v8h-8zM72 1880h8v8h-8zM88 1880h8v8h-8zM104 1880h8v8h-8zM120 1880h8v8h-8zM136 1880h8v8h-8zM152 1880h8v8h-8zM168 1880h8v8h-8zM184 1880h8v8h-8zM200 1880h8v8h-8zM216 1880h8v8h-8zM232 1880h8v8h-8zM248 1880h8v8h-8zM264 1880h8v8h-8zM280 1880h8v8h-8zM984 1880h8v8h-8zM1016 1880h8v8h-8zM1048 1880h8v8h-8zM1080 1880h8v8h-8zM1112 1880h8v8h-8zM1144 1880h8v8h-8zM48 1888h248v8h-248zM544 1888h8v8h-8zM560 1888h8v8h-8zM576 1888h8v8h-8zM592 1888h8v8h-8zM608 1888h8v8h-8zM624 1888h8v8h-8zM640 1888h8v8h-8zM960 1888h8v8h-8zM976 1888h8v8h-8zM992 1888h8v8h-8zM1008 1888h8v8h-8zM1024 1888h8v8h-8zM1040 1888h8v8h-8zM1056 1888h8v8h-8zM1072 1888h8v8h-8zM1088 1888h8v8h-8zM1104 1888h8v8h-8zM1120 1888h8v8h-8zM1136 1888h8v8h-8zM1152 1888h8v8h-8zM56 1896h24v8h-24zM88 1896h24v8h-24zM120 1896h24v8h-24zM152 1896h24v8h-24zM184 1896h104v8h-104zM968 1896h8v8h-8zM984 1896h8v8h-8zM1000 1896h8v8h-8zM1016 1896h8v8h-8zM1032 1896h8v8h-8zM1048 1896h8v8h-8zM1064 1896h8v8h-8zM1080 1896h8v8h-8zM1096 1896h8v8h-8zM1112 1896h8v8h-8zM1128 1896h8v8h-8zM1144 1896h8v8h-8zM1160 1896h8v8h-8zM48 1904h248v8h-248zM960 1904h8v8h-8zM976 1904h8v8h-8zM992 1904h8v8h-8zM1008 1904h8v8h-8zM1024 1904h8v8h-8zM1040 1904h8v8h-8zM1056 1904h8v8h-8zM1072 1904h8v8h-8zM1088 1904h8v8h-8zM1104 1904h8v8h-8zM1120 1904h8v8h-8zM1136 1904h8v8h-8zM1152 1904h8v8h-8zM48 1912h16v8h-16zM72 1912h24v8h-24zM104 1912h24v8h-24zM136 1912h24v8h-24zM168 1912h120v8h-120zM968 1912h8v8h-8zM984 1912h8v8h-8zM1000 1912h8v8h-8zM1016 1912h8v8h-8zM1032 1912h8v8h-8zM1048 1912h8v8h-8zM1064 1912h8v8h-8zM1080 1912h8v8h-8zM1096 1912h8v8h-8zM1112 1912h8v8h-8zM1128 1912h8v8h-8zM1144 1912h8v8h-8zM48 1920h248v8h-248zM960 1920h8v8h-8zM976 1920h8v8h-8zM992 1920h8v8h-8zM1008 1920h8v8h-8zM1024 1920h8v8h-8zM1040 1920h8v8h-8zM1056 1920h8v8h-8zM1072 1920h8v8h-8zM1088 1920h8v8h-8zM1104 1920h8v8h-8zM1120 1920h8v8h-8zM1136 1920h8v8h-8zM1152 1920h8v8h-8zM56 1928h24v8h-24zM88 1928h24v8h-24zM120 1928h24v8h-24zM152 1928h24v8h-24zM184 1928h24v8h-24zM216 1928h24v8h-24zM248 1928h24v8h-24zM280 1928h8v8h-8zM968 1928h8v8h-8zM1000 1928h8v8h-8zM1032 1928h8v8h-8zM1064 1928h8v8h-8zM1096 1928h8v8h-8zM1128 1928h8v8h-8zM1160 1928h8v8h-8zM48 1936h8v8h-8zM64 1936h8v8h-8zM80 1936h8v8h-8zM96 1936h8v8h-8zM112 1936h8v8h-8zM128 1936h8v8h-8zM144 1936h8v8h-8zM160 1936h8v8h-8zM176 1936h8v8h-8zM192 1936h8v8h-8zM208 1936h8v8h-8zM224 1936h8v8h-8zM240 1936h8v8h-8zM256 1936h8v8h-8zM272 1936h8v8h-8zM288 1936h8v8h-8zM320 2304h8v8h-8zM336 2304h8v8h-8zM352 2304h8v8h-8zM368 2304h8v8h-8zM384 2304h8v8h-8zM400 2304h8v8h-8zM416 2304h8v8h-8zM432 2304h8v8h-8zM448 2304h8v8h-8zM464 2304h8v8h-8zM480 2304h8v8h-8zM496 2304h8v8h-8zM704 2304h24v8h-24zM736 2304h8v8h-8zM752 2304h8v8h-8zM768 2304h8v8h-8zM784 2304h8v8h-8zM800 2304h8v8h-8zM816 2304h8v8h-8zM832 2304h8v8h-8zM848 2304h8v8h-8zM864 2304h8v8h-8zM880 2304h8v8h-8zM896 2304h8v8h-8zM328 2312h8v8h-8zM344 2312h8v8h-8zM360 2312h8v8h-8zM376 2312h8v8h-8zM392 2312h8v8h-8zM408 2312h8v8h-8zM424 2312h8v8h-8zM440 2312h24v8h-24zM472 2312h24v8h-24zM504 2312h8v8h-8zM712 2312h8v8h-8zM728 2312h24v8h-24zM760 2312h24v8h-24zM792 2312h24v8h-24zM824 2312h8v8h-8zM840 2312h8v8h-8zM856 2312h8v8h-8zM872 2312h8v8h-8zM888 2312h8v8h-8zM904 2312h8v8h-8zM320 2320h184v8h-184zM720 2320h200v8h-200zM328 2328h24v8h-24zM360 2328h24v8h-24zM392 2328h24v8h-24zM424 2328h24v8h-24zM456 2328h24v8h-24zM488 2328h24v8h-24zM728 2328h8v8h-8zM744 2328h24v8h-24zM776 2328h24v8h-24zM808 2328h24v8h-24zM840 2328h24v8h-24zM872 2328h24v8h-24zM904 2328h8v8h-8zM320 2336h200v8h-200zM720 2336h200v8h-200zM328 2344h8v8h-8zM344 2344h24v8h-24zM376 2344h24v8h-24zM408 2344h24v8h-24zM440 2344h24v8h-24zM472 2344h24v8h-24zM504 2344h8v8h-8zM728 2344h8v8h-8zM744 2344h8v8h-8zM760 2344h24v8h-24zM792 2344h24v8h-24zM824 2344h24v8h-24zM856 2344h24v8h-24zM888 2344h24v8h-24zM320 2352h8v8h-8zM336 2352h152v8h-152zM496 2352h8v8h-8zM736 2352h8v8h-8zM752 2352h168v8h-168zM328 2360h8v8h-8zM344 2360h8v8h-8zM360 2360h8v8h-8zM376 2360h8v8h-8zM392 2360h8v8h-8zM408 2360h8v8h-8zM424 2360h8v8h-8zM440 2360h8v8h-8zM456 2360h8v8h-8zM472 2360h8v8h-8zM760 2360h8v8h-8zM776 2360h24v8h-24zM808 2360h24v8h-24zM840 2360h24v8h-24zM872 2360h24v8h-24zM904 2360h8v8h-8zM920 2360h8v8h-8zM320 2368h8v8h-8zM336 2368h8v8h-8zM352 2368h8v8h-8zM368 2368h8v8h-8zM384 2368h8v8h-8zM400 2368h8v8h-8zM416 2368h8v8h-8zM432 2368h8v8h-8zM448 2368h8v8h-8zM464 2368h8v8h-8zM480 2368h8v8h-8zM768 2368h152v8h-152zM792 2376h24v8h-24zM824 2376h24v8h-24zM856 2376h8v8h-8zM872 2376h8v8h-8zM904 2376h8v8h-8zM784 2384h56v8h-56zM848 2384h8v8h-8zM792 2392h8v8h-8zM808 2392h24v8h-24zM800 2400h24v8h-24zM832 2400h8v8h-8zM808 2408h8v8h-8zM816 2416h8v8h-8zM48 2512h8v8h-8zM48 2528h8v8h-8zM64 2528h8v8h-8zM96 2528h8v8h-8zM1120 2528h8v8h-8zM1152 2528h8v8h-8zM1168 2528h8v8h-8zM1184 2528h8v8h-8zM48 2544h8v8h-8zM64 2544h8v8h-8zM80 2544h8v8h-8zM112 2544h8v8h-8zM1104 2544h8v8h-8zM1136 2544h8v8h-8zM1152 2544h8v8h-8zM1168 2544h8v8h-8zM1184 2544h8v8h-8zM56 2552h8v8h-8zM1176 2552h8v8h-8zM48 2560h8v8h-8zM64 2560h8v8h-8zM80 2560h8v8h-8zM96 2560h8v8h-8zM112 2560h8v8h-8zM128 2560h8v8h-8zM160 2560h8v8h-8zM1056 2560h8v8h-8zM1088 2560h8v8h-8zM1104 2560h8v8h-8zM1120 2560h8v8h-8zM1136 2560h8v8h-8zM1152 2560h8v8h-8zM1168 2560h8v8h-8zM1184 2560h8v8h-8zM56 2568h8v8h-8zM72 2568h8v8h-8zM104 2568h8v8h-8zM1128 2568h8v8h-8zM1160 2568h8v8h-8zM1176 2568h8v8h-8zM48 2576h8v8h-8zM64 2576h8v8h-8zM80 2576h8v8h-8zM96 2576h8v8h-8zM112 2576h8v8h-8zM128 2576h8v8h-8zM144 2576h8v8h-8zM176 2576h8v8h-8zM1040 2576h8v8h-8zM1072 2576h8v8h-8zM1088 2576h8v8h-8zM1104 2576h8v8h-8zM1120 2576h8v8h-8zM1136 2576h8v8h-8zM1152 2576h8v8h-8zM1168 2576h8v8h-8zM1184 2576h8v8h-8zM56 2584h8v8h-8zM72 2584h8v8h-8zM88 2584h8v8h-8zM120 2584h8v8h-8zM1112 2584h8v8h-8zM1144 2584h8v8h-8zM1160 2584h8v8h-8zM1176 2584h8v8h-8zM48 2592h8v8h-8zM64 2592h24v8h-24zM96 2592h8v8h-8zM112 2592h8v8h-8zM128 2592h8v8h-8zM144 2592h8v8h-8zM160 2592h8v8h-8zM176 2592h8v8h-8zM192 2592h8v8h-8zM208 2592h8v8h-8zM224 2592h8v8h-8zM960 2592h8v8h-8zM992 2592h8v8h-8zM1008 2592h8v8h-8zM1024 2592h8v8h-8zM1040 2592h8v8h-8zM1056 2592h8v8h-8zM1072 2592h8v8h-8zM1088 2592h8v8h-8zM1104 2592h8v8h-8zM1120 2592h8v8h-8zM1136 2592h8v8h-8zM1152 2592h24v8h-24zM1184 2592h8v8h-8zM56 2600h8v8h-8zM72 2600h8v8h-8zM88 2600h8v8h-8zM104 2600h8v8h-8zM120 2600h8v8h-8zM136 2600h8v8h-8zM168 2600h8v8h-8zM1032 2600h8v8h-8zM1064 2600h8v8h-8zM1080 2600h8v8h-8zM1096 2600h8v8h-8zM1112 2600h8v8h-8zM1128 2600h8v8h-8zM1144 2600h8v8h-8zM1160 2600h8v8h-8zM1176 2600h8v8h-8zM48 2608h24v8h-24zM80 2608h24v8h-24zM112 2608h8v8h-8zM128 2608h8v8h-8zM144 2608h8v8h-8zM160 2608h8v8h-8zM176 2608h8v8h-8zM192 2608h8v8h-8zM208 2608h8v8h-8zM224 2608h8v8h-8zM240 2608h8v8h-8zM944 2608h8v8h-8zM976 2608h8v8h-8zM992 2608h8v8h-8zM1008 2608h8v8h-8zM1024 2608h8v8h-8zM1040 2608h8v8h-8zM1056 2608h8v8h-8zM1072 2608h8v8h-8zM1088 2608h8v8h-8zM1104 2608h8v8h-8zM1120 2608h8v8h-8zM1136 2608h24v8h-24zM1168 2608h24v8h-24zM56 2616h8v8h-8zM72 2616h8v8h-8zM88 2616h8v8h-8zM104 2616h8v8h-8zM120 2616h8v8h-8zM136 2616h8v8h-8zM152 2616h8v8h-8zM184 2616h8v8h-8zM1016 2616h8v8h-8zM1048 2616h8v8h-8zM1064 2616h8v8h-8zM1080 2616h8v8h-8zM1096 2616h8v8h-8zM1112 2616h8v8h-8zM1128 2616h8v8h-8zM1144 2616h8v8h-8zM1160 2616h8v8h-8zM1176 2616h8v8h-8zM48 2624h72v8h-72zM128 2624h24v8h-24zM160 2624h8v8h-8zM176 2624h8v8h-8zM192 2624h8v8h-8zM208 2624h8v8h-8zM224 2624h8v8h-8zM240 2624h8v8h-8zM256 2624h8v8h-8zM272 2624h8v8h-8zM288 2624h8v8h-8zM320 2624h8v8h-8zM896 2624h8v8h-8zM928 2624h8v8h-8zM944 2624h8v8h-8zM960 2624h8v8h-8zM976 2624h8v8h-8zM992 2624h8v8h-8zM1008 2624h8v8h-8zM1024 2624h8v8h-8zM1040 2624h8v8h-8zM1056 2624h24v8h-24zM1088 2624h104v8h-104zM48 2632h32v8h-32zM88 2632h8v8h-8zM104 2632h8v8h-8zM120 2632h8v8h-8zM136 2632h8v8h-8zM152 2632h8v8h-8zM168 2632h8v8h-8zM184 2632h8v8h-8zM200 2632h8v8h-8zM216 2632h8v8h-8zM232 2632h8v8h-8zM968 2632h8v8h-8zM1000 2632h8v8h-8zM1016 2632h8v8h-8zM1032 2632h8v8h-8zM1048 2632h8v8h-8zM1064 2632h8v8h-8zM1080 2632h8v8h-8zM1096 2632h8v8h-8zM1112 2632h8v8h-8zM1128 2632h8v8h-8zM1144 2632h24v8h-24zM1176 2632h16v8h-16zM48 2640h88v8h-88zM144 2640h24v8h-24zM176 2640h8v8h-8zM192 2640h8v8h-8zM208 2640h8v8h-8zM224 2640h8v8h-8zM240 2640h8v8h-8zM256 2640h8v8h-8zM272 2640h8v8h-8zM288 2640h8v8h-8zM304 2640h8v8h-8zM336 2640h8v8h-8zM880 2640h8v8h-8zM912 2640h8v8h-8zM928 2640h8v8h-8zM944 2640h8v8h-8zM960 2640h8v8h-8zM976 2640h8v8h-8zM992 2640h8v8h-8zM1008 2640h8v8h-8zM1024 2640h8v8h-8zM1040 2640h24v8h-24zM1072 2640h120v8h-120zM48 2648h48v8h-48zM104 2648h8v8h-8zM120 2648h8v8h-8zM136 2648h8v8h-8zM152 2648h8v8h-8zM168 2648h8v8h-8zM184 2648h8v8h-8zM200 2648h8v8h-8zM216 2648h8v8h-8zM232 2648h8v8h-8zM248 2648h8v8h-8zM264 2648h8v8h-8zM280 2648h8v8h-8zM296 2648h8v8h-8zM312 2648h8v8h-8zM328 2648h8v8h-8zM344 2648h8v8h-8zM360 2648h8v8h-8zM376 2648h8v8h-8zM392 2648h8v8h-8zM408 2648h8v8h-8zM424 2648h8v8h-8zM440 2648h8v8h-8zM456 2648h8v8h-8zM472 2648h8v8h-8zM488 2648h8v8h-8zM504 2648h8v8h-8zM520 2648h8v8h-8zM536 2648h8v8h-8zM552 2648h8v8h-8zM568 2648h8v8h-8zM584 2648h8v8h-8zM600 2648h8v8h-8zM616 2648h8v8h-8zM632 2648h8v8h-8zM648 2648h8v8h-8zM664 2648h8v8h-8zM680 2648h8v8h-8zM696 2648h8v8h-8zM712 2648h8v8h-8zM728 2648h8v8h-8zM744 2648h8v8h-8zM760 2648h8v8h-8zM776 2648h8v8h-8zM792 2648h8v8h-8zM808 2648h8v8h-8zM824 2648h8v8h-8zM840 2648h8v8h-8zM856 2648h8v8h-8zM872 2648h8v8h-8zM888 2648h8v8h-8zM904 2648h8v8h-8zM920 2648h8v8h-8zM936 2648h8v8h-8zM952 2648h8v8h-8zM968 2648h8v8h-8zM984 2648h8v8h-8zM1000 2648h8v8h-8zM1016 2648h8v8h-8zM1032 2648h8v8h-8zM1048 2648h8v8h-8zM1064 2648h8v8h-8zM1080 2648h8v8h-8zM1096 2648h8v8h-8zM1112 2648h8v8h-8zM1128 2648h24v8h-24zM1160 2648h32v8h-32zM48 2656h168v8h-168zM224 2656h24v8h-24zM256 2656h24v8h-24zM288 2656h24v8h-24zM320 2656h24v8h-24zM352 2656h24v8h-24zM384 2656h24v8h-24zM416 2656h24v8h-24zM448 2656h24v8h-24zM480 2656h24v8h-24zM512 2656h24v8h-24zM544 2656h24v8h-24zM576 2656h24v8h-24zM608 2656h24v8h-24zM640 2656h24v8h-24zM672 2656h24v8h-24zM704 2656h24v8h-24zM736 2656h24v8h-24zM768 2656h24v8h-24zM800 2656h24v8h-24zM832 2656h24v8h-24zM864 2656h24v8h-24zM896 2656h24v8h-24zM928 2656h24v8h-24zM960 2656h24v8h-24zM992 2656h24v8h-24zM1024 2656h168v8h-168zM48 2664h96v8h-96zM152 2664h24v8h-24zM184 2664h8v8h-8zM200 2664h8v8h-8zM216 2664h8v8h-8zM232 2664h8v8h-8zM248 2664h8v8h-8zM264 2664h8v8h-8zM280 2664h8v8h-8zM296 2664h8v8h-8zM328 2664h8v8h-8zM904 2664h8v8h-8zM920 2664h8v8h-8zM936 2664h8v8h-8zM952 2664h8v8h-8zM968 2664h8v8h-8zM984 2664h8v8h-8zM1000 2664h8v8h-8zM1016 2664h8v8h-8zM1032 2664h8v8h-8zM1048 2664h24v8h-24zM1080 2664h112v8h-112z"/>
<g transform="translate(620,2080)">
<path d="M-256 -48H-248V-56H-240V-56H-232V-64H-160V-64H-152V-56H-144V-48H-136V-48H-128V-40H-120V-40H-112V-40H-104V-40H-96V-32H-88V-32H-80V-32H-72V-32H-64V-24H-56V-24H-56V-8H-64V-8H-72V0H-80V0H-88V8H-96V8H-104V16H-112V24H-120V24H-128V32H-136V40H-192V40H-200V40H-208V40H-216V32H-224V32H-232V32H-240V24H-248V16H-256V8Z" fill="#3c59a7"/>
<path d="M56 -24H64V-24H72V-32H104V-32H112V-40H120V-40H128V-48H136V-48H144V-48H152V-56H160V-56H168V-56H176V-56H184V-48H192V-48H200V-48H208V-48H216V-40H224V-40H232V-32H232V-24H240V-16H240V8H232V16H224V24H216V32H208V32H200V40H152V40H144V32H136V24H128V24H120V16H112V8H104V8H96V0H88V0H80V0H72V0H64V-8H56V-8Z" fill="#3c59a7"/>
<defs><filter id="px620_2080" filterUnits="userSpaceOnUse" x="-276" y="-80" width="552" height="344" color-interpolation-filters="sRGB"><feFlood x="-273" y="-77" width="2" height="2" flood-color="#000"/><feComposite width="8" height="8"/><feTile result="a"/><feComposite in="SourceGraphic" in2="a" operator="in"/><feMorphology operator="dilate" radius="3"/><feGaussianBlur stdDeviation="1.1"/></filter></defs>
<g filter="url(#px620_2080)">
<g filter="url(#b2)">
<polygon points="-202,-18 -188,-32 -148,-30 -120,0 -105,20 -98,78 -135,82 -150,70 -178,50 -202,15" fill="#4a92d2"/>
<polygon points="-186,-18 -150,-18 -125,10 -110,30 -106,74 -130,72 -150,50 -172,25 -186,0" fill="#58aab6"/>
<polygon points="-140,15 -120,20 -105,40 -104,78 -125,70 -138,40" fill="#5cba52"/>
<polygon points="184,-14 166,-28 135,-25 110,0 100,20 96,78 125,82 140,66 166,45 184,10" fill="#4a92d2"/>
<polygon points="170,-14 140,-14 118,10 106,30 102,74 124,72 140,50 160,25 172,0" fill="#58aab6"/>
<polygon points="128,24 112,28 104,44 102,78 120,70 130,44" fill="#5cba52"/>
<ellipse cx="-92" cy="-10" rx="18" ry="9" fill="#58aab6"/>
<ellipse cx="84" cy="-10" rx="18" ry="9" fill="#58aab6"/>
<ellipse cx="-112" cy="122" rx="34" ry="52" fill="#6f9fe6"/>
<ellipse cx="110" cy="122" rx="34" ry="52" fill="#6f9fe6"/>
<ellipse cx="-108" cy="122" rx="30" ry="47" fill="#52bd3c"/>
<ellipse cx="108" cy="122" rx="30" ry="47" fill="#52bd3c"/>
</g>
<g filter="url(#b2)">
<ellipse cx="-101" cy="122" rx="15" ry="34" fill="#c7b02a"/>
<ellipse cx="-100" cy="122" rx="8" ry="20" fill="#cf6f25"/>
<ellipse cx="97" cy="122" rx="12" ry="34" fill="#c3c02c"/>
<rect x="-96" y="172" width="190" height="10" fill="#56b468"/>
<rect x="-96" y="182" width="190" height="8" fill="#3f8fd0"/>
<polygon points="-94,176 -76,176 -78,240 -92,240" fill="#4aa0c8"/>
<polygon points="72,176 90,176 92,240 78,240" fill="#4aa0c8"/>
<polygon points="-94,176 -78,176 -80,200 -92,200" fill="#52b06a"/>
<polygon points="74,176 90,176 90,200 78,200" fill="#52b06a"/>
</g>
</g>
<path d="M-101 76V34Q-101 10 -78 7Q-40 -2 0 -3Q40 -2 76 4Q101 8 101 34V76Z" fill="#4030a0" filter="url(#b1)"/>
<path d="M-99 60V34Q-99 12 -78 9Q-62 7 -48 9Q-70 24 -85 60Z" fill="#35793d" filter="url(#b1)"/>
<path d="M99 60V30Q99 8 78 5Q62 3 50 6Q70 22 86 60Z" fill="#dc4a38" filter="url(#b1)"/>
<path d="M99 60V30Q99 14 88 8L84 40Q80 52 86 60Z" fill="#e0541c" filter="url(#b1)"/>
<path d="M-85 76V59A91 91 0 0 1 85 59V76Z" fill="#f9f8f8"/>
<rect x="-99" y="59" width="26" height="17" fill="#8a84c8"/>
<rect x="72" y="59" width="28" height="17" fill="#9a9ad0"/>
<rect x="-87" y="78" width="171" height="95" fill="#f9f8f8"/>
<rect x="-90" y="78" width="5" height="95" fill="#d8e86a" filter="url(#b1)"/>
<rect x="83" y="78" width="5" height="95" fill="#bccc34" filter="url(#b1)"/>
<g stroke="#3c3c50" stroke-width="2.8" fill="none">
<path d="M-99 76.5H100"/>
<path d="M0 0V173"/>
</g>
<g stroke="#565a86" stroke-width="3" fill="none">
<path d="M-47.5 17V76"/>
<path d="M44 17V76"/>
</g>
</g>
</g>
<rect x="51" y="2665" width="1134" height="3" fill="#c9f7e6"/>
<rect x="51" y="1886" width="3" height="780" fill="#3a66c8" opacity="0.7"/>
<clipPath id="cpf"><rect x="1631" y="1881" width="1144" height="785"/></clipPath>
<rect x="1631" y="1881" width="1144" height="785" fill="#27448f"/>
<g clip-path="url(#cpf)">
<path fill="#3c59a7" d="M1624 1880h8v8h-8zM1640 1880h8v8h-8zM1656 1880h8v8h-8zM1672 1880h8v8h-8zM1688 1880h8v8h-8zM1704 1880h8v8h-8zM1720 1880h8v8h-8zM1736 1880h8v8h-8zM1752 1880h8v8h-8zM1768 1880h8v8h-8zM1784 1880h8v8h-8zM1800 1880h8v8h-8zM1816 1880h8v8h-8zM1832 1880h8v8h-8zM1848 1880h8v8h-8zM1864 1880h8v8h-8zM2552 1880h8v8h-8zM2568 1880h8v8h-8zM2584 1880h8v8h-8zM2600 1880h8v8h-8zM2616 1880h8v8h-8zM2632 1880h8v8h-8zM2648 1880h8v8h-8zM2664 1880h8v8h-8zM2680 1880h8v8h-8zM2696 1880h8v8h-8zM2712 1880h8v8h-8zM2728 1880h8v8h-8zM2744 1880h8v8h-8zM2760 1880h8v8h-8zM1632 1888h248v8h-248zM2544 1888h8v8h-8zM2560 1888h24v8h-24zM2592 1888h24v8h-24zM2624 1888h24v8h-24zM2656 1888h24v8h-24zM2688 1888h24v8h-24zM2720 1888h24v8h-24zM2752 1888h24v8h-24zM1640 1896h8v8h-8zM1656 1896h24v8h-24zM1688 1896h24v8h-24zM1720 1896h24v8h-24zM1752 1896h24v8h-24zM1784 1896h24v8h-24zM1816 1896h24v8h-24zM1848 1896h24v8h-24zM2536 1896h8v8h-8zM2552 1896h8v8h-8zM2568 1896h8v8h-8zM2584 1896h8v8h-8zM2600 1896h8v8h-8zM2616 1896h8v8h-8zM2632 1896h8v8h-8zM2648 1896h8v8h-8zM2664 1896h8v8h-8zM2680 1896h8v8h-8zM2696 1896h8v8h-8zM2712 1896h8v8h-8zM2728 1896h8v8h-8zM2744 1896h8v8h-8zM2760 1896h8v8h-8zM1632 1904h248v8h-248zM2544 1904h8v8h-8zM2560 1904h8v8h-8zM2576 1904h8v8h-8zM2592 1904h8v8h-8zM2608 1904h8v8h-8zM2624 1904h8v8h-8zM2640 1904h8v8h-8zM2656 1904h8v8h-8zM2672 1904h8v8h-8zM2688 1904h8v8h-8zM2704 1904h8v8h-8zM2720 1904h8v8h-8zM2736 1904h8v8h-8zM2752 1904h8v8h-8zM2768 1904h8v8h-8zM1624 1912h8v8h-8zM1640 1912h24v8h-24zM1672 1912h24v8h-24zM1704 1912h24v8h-24zM1736 1912h24v8h-24zM1768 1912h24v8h-24zM1800 1912h24v8h-24zM1832 1912h24v8h-24zM1864 1912h8v8h-8zM2552 1912h8v8h-8zM2568 1912h8v8h-8zM2584 1912h8v8h-8zM2600 1912h8v8h-8zM2616 1912h8v8h-8zM2632 1912h8v8h-8zM2648 1912h8v8h-8zM2664 1912h8v8h-8zM2680 1912h8v8h-8zM2696 1912h8v8h-8zM2712 1912h8v8h-8zM2728 1912h8v8h-8zM2744 1912h8v8h-8zM2760 1912h8v8h-8zM1632 1920h248v8h-248zM2544 1920h8v8h-8zM2560 1920h24v8h-24zM2592 1920h24v8h-24zM2624 1920h24v8h-24zM2656 1920h24v8h-24zM2688 1920h24v8h-24zM2720 1920h24v8h-24zM2752 1920h24v8h-24zM1640 1928h8v8h-8zM1656 1928h24v8h-24zM1688 1928h24v8h-24zM1720 1928h24v8h-24zM1752 1928h24v8h-24zM1784 1928h24v8h-24zM1816 1928h24v8h-24zM1848 1928h24v8h-24zM2536 1928h8v8h-8zM2552 1928h8v8h-8zM2568 1928h8v8h-8zM2584 1928h8v8h-8zM2600 1928h8v8h-8zM2616 1928h8v8h-8zM2632 1928h8v8h-8zM2648 1928h8v8h-8zM2664 1928h8v8h-8zM2680 1928h8v8h-8zM2696 1928h8v8h-8zM2712 1928h8v8h-8zM2728 1928h8v8h-8zM2744 1928h8v8h-8zM2760 1928h8v8h-8zM1632 1936h248v8h-248zM2544 1936h8v8h-8zM2576 1936h8v8h-8zM2608 1936h8v8h-8zM2640 1936h8v8h-8zM2672 1936h8v8h-8zM2704 1936h8v8h-8zM2736 1936h8v8h-8zM2768 1936h8v8h-8zM1656 1944h8v8h-8zM1688 1944h8v8h-8zM1720 1944h8v8h-8zM1752 1944h8v8h-8zM1784 1944h8v8h-8zM1816 1944h8v8h-8zM1848 1944h8v8h-8zM1984 2304h8v8h-8zM2000 2304h8v8h-8zM2016 2304h8v8h-8zM2032 2304h8v8h-8zM2048 2304h24v8h-24zM2080 2304h40v8h-40zM2272 2304h56v8h-56zM2336 2304h24v8h-24zM2368 2304h8v8h-8zM2384 2304h8v8h-8zM2400 2304h8v8h-8zM2416 2304h8v8h-8zM2432 2304h8v8h-8zM1960 2312h8v8h-8zM1976 2312h8v8h-8zM1992 2312h8v8h-8zM2008 2312h8v8h-8zM2024 2312h8v8h-8zM2040 2312h24v8h-24zM2072 2312h24v8h-24zM2104 2312h8v8h-8zM2280 2312h8v8h-8zM2296 2312h24v8h-24zM2328 2312h24v8h-24zM2360 2312h24v8h-24zM2392 2312h24v8h-24zM2424 2312h8v8h-8zM2440 2312h8v8h-8zM1936 2320h184v8h-184zM2288 2320h184v8h-184zM2480 2320h8v8h-8zM1928 2328h24v8h-24zM1960 2328h24v8h-24zM1992 2328h24v8h-24zM2024 2328h24v8h-24zM2056 2328h24v8h-24zM2088 2328h24v8h-24zM2280 2328h8v8h-8zM2296 2328h8v8h-8zM2312 2328h24v8h-24zM2344 2328h24v8h-24zM2376 2328h24v8h-24zM2408 2328h24v8h-24zM2440 2328h24v8h-24zM2472 2328h8v8h-8zM1920 2336h184v8h-184zM2112 2336h8v8h-8zM2288 2336h8v8h-8zM2304 2336h184v8h-184zM1928 2344h8v8h-8zM1944 2344h24v8h-24zM1976 2344h24v8h-24zM2008 2344h24v8h-24zM2040 2344h24v8h-24zM2072 2344h8v8h-8zM2088 2344h8v8h-8zM2312 2344h8v8h-8zM2328 2344h24v8h-24zM2360 2344h24v8h-24zM2392 2344h24v8h-24zM2424 2344h24v8h-24zM2456 2344h24v8h-24zM1920 2352h8v8h-8zM1936 2352h120v8h-120zM2064 2352h8v8h-8zM2320 2352h168v8h-168zM1928 2360h24v8h-24zM1960 2360h24v8h-24zM1992 2360h24v8h-24zM2024 2360h8v8h-8zM2040 2360h8v8h-8zM2344 2360h24v8h-24zM2376 2360h24v8h-24zM2408 2360h24v8h-24zM2440 2360h24v8h-24zM2472 2360h8v8h-8zM1920 2368h8v8h-8zM1936 2368h8v8h-8zM1952 2368h56v8h-56zM2016 2368h8v8h-8zM2032 2368h8v8h-8zM2336 2368h8v8h-8zM2352 2368h136v8h-136zM2376 2376h8v8h-8zM2392 2376h24v8h-24zM2424 2376h24v8h-24zM2456 2376h24v8h-24zM2384 2384h88v8h-88zM2392 2392h8v8h-8zM2408 2392h24v8h-24zM2440 2392h24v8h-24zM2400 2400h72v8h-72zM2408 2408h8v8h-8zM2424 2408h24v8h-24zM2456 2408h8v8h-8zM2416 2416h8v8h-8zM2432 2416h8v8h-8zM2448 2416h8v8h-8zM1632 2592h8v8h-8zM1664 2592h8v8h-8zM2752 2592h8v8h-8zM1648 2608h8v8h-8zM1680 2608h8v8h-8zM2736 2608h8v8h-8zM2768 2608h8v8h-8zM1632 2624h8v8h-8zM1648 2624h8v8h-8zM1664 2624h8v8h-8zM1680 2624h8v8h-8zM1696 2624h8v8h-8zM1728 2624h8v8h-8zM2688 2624h8v8h-8zM2720 2624h8v8h-8zM2736 2624h8v8h-8zM2752 2624h8v8h-8zM2768 2624h8v8h-8zM1640 2632h8v8h-8zM2760 2632h8v8h-8zM1632 2640h8v8h-8zM1648 2640h8v8h-8zM1664 2640h8v8h-8zM1680 2640h8v8h-8zM1712 2640h8v8h-8zM1744 2640h8v8h-8zM2672 2640h8v8h-8zM2704 2640h8v8h-8zM2720 2640h8v8h-8zM2736 2640h8v8h-8zM2752 2640h8v8h-8zM2768 2640h8v8h-8zM1624 2648h8v8h-8zM1656 2648h8v8h-8zM2744 2648h8v8h-8zM1632 2656h8v8h-8zM1648 2656h8v8h-8zM1664 2656h8v8h-8zM1680 2656h8v8h-8zM1696 2656h8v8h-8zM1712 2656h8v8h-8zM1728 2656h8v8h-8zM1744 2656h8v8h-8zM1760 2656h8v8h-8zM1792 2656h8v8h-8zM2624 2656h8v8h-8zM2656 2656h8v8h-8zM2672 2656h8v8h-8zM2688 2656h8v8h-8zM2704 2656h8v8h-8zM2720 2656h8v8h-8zM2736 2656h8v8h-8zM2752 2656h8v8h-8zM2768 2656h8v8h-8zM1624 2664h8v8h-8zM1640 2664h8v8h-8zM1656 2664h8v8h-8zM1672 2664h8v8h-8zM1704 2664h8v8h-8zM2696 2664h8v8h-8zM2728 2664h8v8h-8zM2744 2664h8v8h-8zM2760 2664h8v8h-8z"/>
<g transform="translate(2203,2080)">
<path d="M-256 -48H-248V-56H-240V-56H-232V-64H-160V-64H-152V-56H-144V-48H-136V-48H-128V-40H-120V-40H-112V-40H-104V-40H-96V-32H-88V-32H-80V-32H-72V-32H-64V-24H-56V-24H-56V-8H-64V-8H-72V0H-80V0H-88V8H-96V8H-104V16H-112V24H-120V24H-128V32H-136V40H-192V40H-200V40H-208V40H-216V32H-224V32H-232V32H-240V24H-248V16H-256V8Z" fill="#3c59a7"/>
<path d="M56 -24H64V-24H72V-32H104V-32H112V-40H120V-40H128V-48H136V-48H144V-48H152V-56H160V-56H168V-56H176V-56H184V-48H192V-48H200V-48H208V-48H216V-40H224V-40H232V-32H232V-24H240V-16H240V8H232V16H224V24H216V32H208V32H200V40H152V40H144V32H136V24H128V24H120V16H112V8H104V8H96V0H88V0H80V0H72V0H64V-8H56V-8Z" fill="#3c59a7"/>
<defs><filter id="px2203_2080" filterUnits="userSpaceOnUse" x="-275" y="-80" width="552" height="344" color-interpolation-filters="sRGB"><feFlood x="-272" y="-77" width="2" height="2" flood-color="#000"/><feComposite width="8" height="8"/><feTile result="a"/><feComposite in="SourceGraphic" in2="a" operator="in"/><feMorphology operator="dilate" radius="3"/><feGaussianBlur stdDeviation="1.1"/></filter></defs>
<g filter="url(#px2203_2080)">
<g filter="url(#b2)">
<polygon points="-202,-18 -188,-32 -148,-30 -120,0 -105,20 -98,78 -135,82 -150,70 -178,50 -202,15" fill="#4a92d2"/>
<polygon points="-186,-18 -150,-18 -125,10 -110,30 -106,74 -130,72 -150,50 -172,25 -186,0" fill="#58aab6"/>
<polygon points="-140,15 -120,20 -105,40 -104,78 -125,70 -138,40" fill="#5cba52"/>
<polygon points="184,-14 166,-28 135,-25 110,0 100,20 96,78 125,82 140,66 166,45 184,10" fill="#4a92d2"/>
<polygon points="170,-14 140,-14 118,10 106,30 102,74 124,72 140,50 160,25 172,0" fill="#58aab6"/>
<polygon points="128,24 112,28 104,44 102,78 120,70 130,44" fill="#5cba52"/>
<ellipse cx="-92" cy="-10" rx="18" ry="9" fill="#58aab6"/>
<ellipse cx="84" cy="-10" rx="18" ry="9" fill="#58aab6"/>
<ellipse cx="-112" cy="122" rx="34" ry="52" fill="#6f9fe6"/>
<ellipse cx="110" cy="122" rx="34" ry="52" fill="#6f9fe6"/>
<ellipse cx="-108" cy="122" rx="30" ry="47" fill="#52bd3c"/>
<ellipse cx="108" cy="122" rx="30" ry="47" fill="#52bd3c"/>
</g>
<g filter="url(#b2)">
<ellipse cx="-101" cy="122" rx="15" ry="34" fill="#c7b02a"/>
<ellipse cx="-100" cy="122" rx="8" ry="20" fill="#cf6f25"/>
<ellipse cx="97" cy="122" rx="12" ry="34" fill="#c3c02c"/>
<rect x="-96" y="172" width="190" height="10" fill="#56b468"/>
<rect x="-96" y="182" width="190" height="8" fill="#3f8fd0"/>
<polygon points="-94,176 -76,176 -78,240 -92,240" fill="#4aa0c8"/>
<polygon points="72,176 90,176 92,240 78,240" fill="#4aa0c8"/>
<polygon points="-94,176 -78,176 -80,200 -92,200" fill="#52b06a"/>
<polygon points="74,176 90,176 90,200 78,200" fill="#52b06a"/>
</g>
</g>
<path d="M-106 76V30Q-106 2 -78 0Q-40 -6 0 -6Q40 -6 76 0Q104 2 104 30V76Z" fill="#4030a0" filter="url(#b1)"/>
<path d="M-104 50V26Q-104 2 -80 0H-62Q-58 20 -70 50Z" fill="#35793d" filter="url(#b1)"/>
<path d="M102 50V26Q102 2 78 0Q62 -2 52 4Q70 20 84 52Z" fill="#d8463c" filter="url(#b1)"/>
<path d="M-46 4Q-20 -2 0 -2V10Q-20 10 -40 16Z" fill="#b030a8" filter="url(#b1)"/>
<path d="M-4 -2Q12 -2 22 1L20 13Q10 10 -4 10Z" fill="#d3d596" filter="url(#b1)"/>
<path d="M20 0Q30 2 38 6L34 18Q26 14 18 12Z" fill="#a4d898" filter="url(#b1)"/>
<path d="M50 12Q70 30 80 60H68Q60 36 42 20Z" fill="#4a7aa8" filter="url(#b1)"/>
<rect x="-104" y="58" width="28" height="16" fill="#7f86c8" filter="url(#b1)"/>
<rect x="76" y="58" width="28" height="16" fill="#8aa8c0" filter="url(#b1)"/>
<rect x="-90" y="76" width="24" height="98" fill="#c9a652"/>
<rect x="-92" y="76" width="10" height="98" fill="#d99a40" filter="url(#b1)"/>
<rect x="66" y="76" width="20" height="98" fill="#cfa27e"/>
<rect x="-70" y="140" width="140" height="22" fill="#b9a07a"/>
<rect x="-90" y="160" width="88" height="14" fill="#d8924a"/>
<rect x="-2" y="160" width="88" height="14" fill="#e08a94"/>
<rect x="-30" y="162" width="16" height="12" fill="#b8a830"/>
<rect x="-3" y="160" width="2.5" height="16" fill="#4a4a50"/>
<path d="M-67 150V47.5A66.25 33 0 0 1 65.5 47.5V150Q65.5 159 57 159H-58Q-67 159 -67 150Z" fill="#f9f8f8" stroke="#fff" stroke-width="1"/>
</g>
</g>
<rect x="1631" y="1880" width="1144" height="4" fill="#5a3cb0" opacity="0.8"/>
<rect x="1631" y="2665" width="1144" height="3" fill="#b9f5dc"/>
<rect x="2772" y="1881" width="3" height="785" fill="#4a3cb0" opacity="0.7"/>
<rect x="1212" y="86" width="28" height="61.125" fill="#d0202e"/>
<rect x="1212" y="86" width="28" height="9" fill="#c03c10"/>
<rect x="1212" y="138.625" width="28" height="8.5" fill="#c82848"/>
<rect x="1232.5" y="86" width="7.5" height="61.125" fill="#f02c10" opacity="0.75"/>
<rect x="1212" y="146.625" width="28" height="61.125" fill="#e03c20"/>
<rect x="1212" y="146.625" width="28" height="9" fill="#c85020"/>
<rect x="1212" y="199.25" width="28" height="8.5" fill="#c85020"/>
<rect x="1232.5" y="146.625" width="7.5" height="61.125" fill="#d86020" opacity="0.75"/>
<rect x="1212" y="145.125" width="28" height="3" fill="#1a1a00" opacity="0.28"/>
<rect x="1212" y="207.25" width="28" height="61.125" fill="#d8c422"/>
<rect x="1212" y="207.25" width="28" height="9" fill="#f8a838"/>
<rect x="1212" y="259.875" width="28" height="8.5" fill="#d8b848"/>
<rect x="1232.5" y="207.25" width="7.5" height="61.125" fill="#d8b040" opacity="0.75"/>
<rect x="1212" y="205.75" width="28" height="3" fill="#1a1a00" opacity="0.28"/>
<rect x="1212" y="267.875" width="28" height="61.125" fill="#d0e838"/>
<rect x="1212" y="267.875" width="28" height="9" fill="#b8b420"/>
<rect x="1212" y="320.5" width="28" height="8.5" fill="#d8e060"/>
<rect x="1232.5" y="267.875" width="7.5" height="61.125" fill="#c8d850" opacity="0.75"/>
<rect x="1212" y="266.375" width="28" height="3" fill="#1a1a00" opacity="0.28"/>
<rect x="1212" y="328.5" width="28" height="61.125" fill="#88c832"/>
<rect x="1212" y="328.5" width="28" height="9" fill="#8a9018"/>
<rect x="1212" y="381.125" width="28" height="8.5" fill="#80c038"/>
<rect x="1232.5" y="328.5" width="7.5" height="61.125" fill="#a0b848" opacity="0.75"/>
<rect x="1212" y="327" width="28" height="3" fill="#1a1a00" opacity="0.28"/>
<rect x="1212" y="389.125" width="28" height="61.125" fill="#58c048"/>
<rect x="1212" y="389.125" width="28" height="9" fill="#3aa038"/>
<rect x="1212" y="441.75" width="28" height="8.5" fill="#40a838"/>
<rect x="1232.5" y="389.125" width="7.5" height="61.125" fill="#40c030" opacity="0.75"/>
<rect x="1212" y="387.625" width="28" height="3" fill="#1a1a00" opacity="0.28"/>
<rect x="1212" y="449.75" width="28" height="61.125" fill="#58c048"/>
<rect x="1212" y="449.75" width="28" height="9" fill="#40a838"/>
<rect x="1212" y="502.375" width="28" height="8.5" fill="#40a838"/>
<rect x="1232.5" y="449.75" width="7.5" height="61.125" fill="#40c030" opacity="0.75"/>
<rect x="1212" y="448.25" width="28" height="3" fill="#1a1a00" opacity="0.28"/>
<rect x="1212" y="510.375" width="28" height="61.125" fill="#58b868"/>
<rect x="1212" y="510.375" width="28" height="9" fill="#48a858"/>
<rect x="1212" y="563" width="28" height="8.5" fill="#50b070"/>
<rect x="1232.5" y="510.375" width="7.5" height="61.125" fill="#48a890" opacity="0.75"/>
<rect x="1212" y="508.875" width="28" height="3" fill="#1a1a00" opacity="0.28"/>
<rect x="1212" y="571" width="28" height="61.125" fill="#68b8c8"/>
<rect x="1212" y="571" width="28" height="9" fill="#68b0d8"/>
<rect x="1212" y="623.625" width="28" height="8.5" fill="#60b0c0"/>
<rect x="1232.5" y="571" width="7.5" height="61.125" fill="#60c8a8" opacity="0.75"/>
<rect x="1212" y="569.5" width="28" height="3" fill="#1a1a00" opacity="0.28"/>
<rect x="1212" y="631.625" width="28" height="61.125" fill="#68b8c8"/>
<rect x="1212" y="631.625" width="28" height="9" fill="#4898a0"/>
<rect x="1212" y="684.25" width="28" height="8.5" fill="#58a8d0"/>
<rect x="1232.5" y="631.625" width="7.5" height="61.125" fill="#50a0e8" opacity="0.75"/>
<rect x="1212" y="630.125" width="28" height="3" fill="#1a1a00" opacity="0.28"/>
<rect x="1212" y="692.25" width="28" height="61.125" fill="#3c5aa8"/>
<rect x="1212" y="692.25" width="28" height="9" fill="#2c4898"/>
<rect x="1212" y="744.875" width="28" height="8.5" fill="#3c5aa8"/>
<rect x="1232.5" y="692.25" width="7.5" height="61.125" fill="#5848b0" opacity="0.75"/>
<rect x="1212" y="690.75" width="28" height="3" fill="#1a1a00" opacity="0.28"/>
<rect x="1212" y="752.875" width="28" height="60.625" fill="#28448c"/>
<rect x="1212" y="752.875" width="28" height="9" fill="#283c88"/>
<rect x="1232.5" y="752.875" width="7.5" height="60.625" fill="#4838a0" opacity="0.75"/>
<rect x="1212" y="751.375" width="28" height="3" fill="#1a1a00" opacity="0.28"/>
<rect x="1212" y="86" width="2.5" height="727.5" fill="#4a4a4a" opacity="0.85"/>
<rect x="1240" y="83.5" width="46" height="7" fill="#ffffff" opacity="0.7"/>
<rect x="1240" y="85" width="42" height="4" fill="#cfcfcf"/>
<rect x="1240" y="144.125" width="46" height="7" fill="#ffffff" opacity="0.7"/>
<rect x="1240" y="145.625" width="42" height="4" fill="#cfcfcf"/>
<rect x="1240" y="204.75" width="46" height="7" fill="#ffffff" opacity="0.7"/>
<rect x="1240" y="206.25" width="42" height="4" fill="#cfcfcf"/>
<rect x="1240" y="265.375" width="46" height="7" fill="#ffffff" opacity="0.7"/>
<rect x="1240" y="266.875" width="42" height="4" fill="#cfcfcf"/>
<rect x="1240" y="326" width="46" height="7" fill="#ffffff" opacity="0.7"/>
<rect x="1240" y="327.5" width="42" height="4" fill="#cfcfcf"/>
<rect x="1240" y="386.625" width="46" height="7" fill="#ffffff" opacity="0.7"/>
<rect x="1240" y="388.125" width="42" height="4" fill="#cfcfcf"/>
<rect x="1240" y="447.25" width="46" height="7" fill="#ffffff" opacity="0.7"/>
<rect x="1240" y="448.75" width="42" height="4" fill="#cfcfcf"/>
<rect x="1240" y="507.875" width="46" height="7" fill="#ffffff" opacity="0.7"/>
<rect x="1240" y="509.375" width="42" height="4" fill="#cfcfcf"/>
<rect x="1240" y="568.5" width="46" height="7" fill="#ffffff" opacity="0.7"/>
<rect x="1240" y="570" width="42" height="4" fill="#cfcfcf"/>
<rect x="1240" y="629.125" width="46" height="7" fill="#ffffff" opacity="0.7"/>
<rect x="1240" y="630.625" width="42" height="4" fill="#cfcfcf"/>
<rect x="1240" y="689.75" width="46" height="7" fill="#ffffff" opacity="0.7"/>
<rect x="1240" y="691.25" width="42" height="4" fill="#cfcfcf"/>
<rect x="1240" y="750.375" width="46" height="7" fill="#ffffff" opacity="0.7"/>
<rect x="1240" y="751.875" width="42" height="4" fill="#cfcfcf"/>
<rect x="1240" y="811" width="46" height="7" fill="#ffffff" opacity="0.7"/>
<rect x="1240" y="812.5" width="42" height="4" fill="#cfcfcf"/>
<g fill="#141414">
<text x="1216" y="28" font-size="34.8px">SOLID STRAIH</text>
<text x="1216" y="62.5" font-size="34.8px">E-PLASTIC,Mone</text>
<text x="1289.7" y="99.2" font-size="34.9px">+1.93957e−003</text>
<text x="1289.7" y="158.9" font-size="34.9px">+1.77794e−003</text>
<text x="1289.7" y="218.5" font-size="34.9px">+1.61631e−003</text>
<text x="1289.7" y="278.2" font-size="34.9px">+1.45468a−003</text>
<text x="1289.7" y="337.9" font-size="34.9px">+1.29305e−003</text>
<text x="1289.7" y="397.6" font-size="34.9px">+1.13142e−003</text>
<text x="1289.7" y="457.2" font-size="34.9px">+9.69787e−004</text>
<text x="1289.7" y="516.9" font-size="34.9px">+8.08156e−004</text>
<text x="1289.7" y="576.6" font-size="34.9px">+6.46525e−004</text>
<text x="1289.7" y="636.2" font-size="34.9px">+4.84893e−004</text>
<text x="1289.7" y="695.9" font-size="34.9px">+3.23262e−004</text>
<text x="1289.7" y="755.6" font-size="34.9px">+1.61631e−004</text>
<text x="1289.7" y="815.2" font-size="34.9px">+0.00000e+000</text>
</g>
<g font-size="34.6px" fill="#c01e46">
<text x="1244" y="130.2">1.0%</text>
<text x="1244" y="189.9">0.1%</text>
<text x="1244" y="249.5">0.2%</text>
<text x="1244" y="309.2">0.3%</text>
<text x="1244" y="368.9">0.6%</text>
<text x="1244" y="428.6">1.0%</text>
<text x="1244" y="488.2">1.6%</text>
<text x="1244" y="547.9">2.5%</text>
<text x="1244" y="607.6">3.3%</text>
<text x="1244" y="667.2">4.2%</text>
<text x="1244" y="726.9">32.7%</text>
<text x="1244" y="786.6">53.6%</text>
</g>
<rect x="2797" y="87" width="27" height="59.9167" fill="#d0202e"/>
<rect x="2797" y="87" width="27" height="9" fill="#c03c10"/>
<rect x="2797" y="138.417" width="27" height="8.5" fill="#c82848"/>
<rect x="2816.5" y="87" width="7.5" height="59.9167" fill="#f02c10" opacity="0.75"/>
<rect x="2797" y="146.417" width="27" height="59.9167" fill="#e03c20"/>
<rect x="2797" y="146.417" width="27" height="9" fill="#c85020"/>
<rect x="2797" y="197.833" width="27" height="8.5" fill="#c85020"/>
<rect x="2816.5" y="146.417" width="7.5" height="59.9167" fill="#d86020" opacity="0.75"/>
<rect x="2797" y="144.917" width="27" height="3" fill="#1a1a00" opacity="0.28"/>
<rect x="2797" y="205.833" width="27" height="59.9167" fill="#d8c422"/>
<rect x="2797" y="205.833" width="27" height="9" fill="#f8a838"/>
<rect x="2797" y="257.25" width="27" height="8.5" fill="#d8b848"/>
<rect x="2816.5" y="205.833" width="7.5" height="59.9167" fill="#d8b040" opacity="0.75"/>
<rect x="2797" y="204.333" width="27" height="3" fill="#1a1a00" opacity="0.28"/>
<rect x="2797" y="265.25" width="27" height="59.9167" fill="#d0e838"/>
<rect x="2797" y="265.25" width="27" height="9" fill="#b8b420"/>
<rect x="2797" y="316.667" width="27" height="8.5" fill="#d8e060"/>
<rect x="2816.5" y="265.25" width="7.5" height="59.9167" fill="#c8d850" opacity="0.75"/>
<rect x="2797" y="263.75" width="27" height="3" fill="#1a1a00" opacity="0.28"/>
<rect x="2797" y="324.667" width="27" height="59.9167" fill="#88c832"/>
<rect x="2797" y="324.667" width="27" height="9" fill="#8a9018"/>
<rect x="2797" y="376.083" width="27" height="8.5" fill="#80c038"/>
<rect x="2816.5" y="324.667" width="7.5" height="59.9167" fill="#a0b848" opacity="0.75"/>
<rect x="2797" y="323.167" width="27" height="3" fill="#1a1a00" opacity="0.28"/>
<rect x="2797" y="384.083" width="27" height="59.9167" fill="#58c048"/>
<rect x="2797" y="384.083" width="27" height="9" fill="#3aa038"/>
<rect x="2797" y="435.5" width="27" height="8.5" fill="#40a838"/>
<rect x="2816.5" y="384.083" width="7.5" height="59.9167" fill="#40c030" opacity="0.75"/>
<rect x="2797" y="382.583" width="27" height="3" fill="#1a1a00" opacity="0.28"/>
<rect x="2797" y="443.5" width="27" height="59.9167" fill="#58c048"/>
<rect x="2797" y="443.5" width="27" height="9" fill="#40a838"/>
<rect x="2797" y="494.917" width="27" height="8.5" fill="#40a838"/>
<rect x="2816.5" y="443.5" width="7.5" height="59.9167" fill="#40c030" opacity="0.75"/>
<rect x="2797" y="442" width="27" height="3" fill="#1a1a00" opacity="0.28"/>
<rect x="2797" y="502.917" width="27" height="59.9167" fill="#58b868"/>
<rect x="2797" y="502.917" width="27" height="9" fill="#48a858"/>
<rect x="2797" y="554.333" width="27" height="8.5" fill="#50b070"/>
<rect x="2816.5" y="502.917" width="7.5" height="59.9167" fill="#48a890" opacity="0.75"/>
<rect x="2797" y="501.417" width="27" height="3" fill="#1a1a00" opacity="0.28"/>
<rect x="2797" y="562.333" width="27" height="59.9167" fill="#68b8c8"/>
<rect x="2797" y="562.333" width="27" height="9" fill="#68b0d8"/>
<rect x="2797" y="613.75" width="27" height="8.5" fill="#60b0c0"/>
<rect x="2816.5" y="562.333" width="7.5" height="59.9167" fill="#60c8a8" opacity="0.75"/>
<rect x="2797" y="560.833" width="27" height="3" fill="#1a1a00" opacity="0.28"/>
<rect x="2797" y="621.75" width="27" height="59.9167" fill="#68b8c8"/>
<rect x="2797" y="621.75" width="27" height="9" fill="#4898a0"/>
<rect x="2797" y="673.167" width="27" height="8.5" fill="#58a8d0"/>
<rect x="2816.5" y="621.75" width="7.5" height="59.9167" fill="#50a0e8" opacity="0.75"/>
<rect x="2797" y="620.25" width="27" height="3" fill="#1a1a00" opacity="0.28"/>
<rect x="2797" y="681.167" width="27" height="59.9167" fill="#3c5aa8"/>
<rect x="2797" y="681.167" width="27" height="9" fill="#2c4898"/>
<rect x="2797" y="732.583" width="27" height="8.5" fill="#3c5aa8"/>
<rect x="2816.5" y="681.167" width="7.5" height="59.9167" fill="#5848b0" opacity="0.75"/>
<rect x="2797" y="679.667" width="27" height="3" fill="#1a1a00" opacity="0.28"/>
<rect x="2797" y="740.583" width="27" height="59.4167" fill="#28448c"/>
<rect x="2797" y="740.583" width="27" height="9" fill="#283c88"/>
<rect x="2816.5" y="740.583" width="7.5" height="59.4167" fill="#4838a0" opacity="0.75"/>
<rect x="2797" y="739.083" width="27" height="3" fill="#1a1a00" opacity="0.28"/>
<rect x="2797" y="87" width="2.5" height="713" fill="#4a4a4a" opacity="0.85"/>
<rect x="2824" y="84.5" width="51" height="7" fill="#ffffff" opacity="0.7"/>
<rect x="2824" y="86" width="47" height="4" fill="#cfcfcf"/>
<rect x="2824" y="143.917" width="51" height="7" fill="#ffffff" opacity="0.7"/>
<rect x="2824" y="145.417" width="47" height="4" fill="#cfcfcf"/>
<rect x="2824" y="203.333" width="51" height="7" fill="#ffffff" opacity="0.7"/>
<rect x="2824" y="204.833" width="47" height="4" fill="#cfcfcf"/>
<rect x="2824" y="262.75" width="51" height="7" fill="#ffffff" opacity="0.7"/>
<rect x="2824" y="264.25" width="47" height="4" fill="#cfcfcf"/>
<rect x="2824" y="322.167" width="51" height="7" fill="#ffffff" opacity="0.7"/>
<rect x="2824" y="323.667" width="47" height="4" fill="#cfcfcf"/>
<rect x="2824" y="381.583" width="51" height="7" fill="#ffffff" opacity="0.7"/>
<rect x="2824" y="383.083" width="47" height="4" fill="#cfcfcf"/>
<rect x="2824" y="441" width="51" height="7" fill="#ffffff" opacity="0.7"/>
<rect x="2824" y="442.5" width="47" height="4" fill="#cfcfcf"/>
<rect x="2824" y="500.417" width="51" height="7" fill="#ffffff" opacity="0.7"/>
<rect x="2824" y="501.917" width="47" height="4" fill="#cfcfcf"/>
<rect x="2824" y="559.833" width="51" height="7" fill="#ffffff" opacity="0.7"/>
<rect x="2824" y="561.333" width="47" height="4" fill="#cfcfcf"/>
<rect x="2824" y="619.25" width="51" height="7" fill="#ffffff" opacity="0.7"/>
<rect x="2824" y="620.75" width="47" height="4" fill="#cfcfcf"/>
<rect x="2824" y="678.667" width="51" height="7" fill="#ffffff" opacity="0.7"/>
<rect x="2824" y="680.167" width="47" height="4" fill="#cfcfcf"/>
<rect x="2824" y="738.083" width="51" height="7" fill="#ffffff" opacity="0.7"/>
<rect x="2824" y="739.583" width="47" height="4" fill="#cfcfcf"/>
<rect x="2824" y="797.5" width="51" height="7" fill="#ffffff" opacity="0.7"/>
<rect x="2824" y="799" width="47" height="4" fill="#cfcfcf"/>
<g fill="#141414">
<text x="2810" y="28" font-size="34.8px">SOLID STRAIH</text>
<text x="2810" y="62.5" font-size="34.8px">E-PLASTIC,Mone</text>
<text x="2883.7" y="99.2" font-size="34.9px">+1.97576e−003</text>
<text x="2883.7" y="158.9" font-size="34.9px">+1.81112e−003</text>
<text x="2883.7" y="218.5" font-size="34.9px">+1.64647e−003</text>
<text x="2883.7" y="278.2" font-size="34.9px">+1.48182e−003</text>
<text x="2883.7" y="337.9" font-size="34.9px">+1.31718e−003</text>
<text x="2883.7" y="397.6" font-size="34.9px">+1.15253e−003</text>
<text x="2883.7" y="457.2" font-size="34.9px">+9.87882e−004</text>
<text x="2883.7" y="516.9" font-size="34.9px">+8.23235e−004</text>
<text x="2883.7" y="576.6" font-size="34.9px">+6.58588e−004</text>
<text x="2883.7" y="636.2" font-size="34.9px">+4.93941e−004</text>
<text x="2883.7" y="695.9" font-size="34.9px">+3.29294e−004</text>
<text x="2883.7" y="755.6" font-size="34.9px">+1.64647e−004</text>
<text x="2883.7" y="815.2" font-size="34.9px">+0.00000e+000</text>
</g>
<g font-size="34.6px" fill="#c01e46">
<text x="2838" y="130.2">0.0%</text>
<text x="2838" y="189.9">0.1%</text>
<text x="2838" y="249.5">0.2%</text>
<text x="2838" y="309.2">0.3%</text>
<text x="2838" y="368.9">0.6%</text>
<text x="2838" y="428.6">1.0%</text>
<text x="2838" y="488.2">1.7%</text>
<text x="2838" y="547.9">2.6%</text>
<text x="2838" y="607.6">3.4%</text>
<text x="2838" y="667.2">4.2%</text>
<text x="2838" y="726.9">33.3%</text>
<text x="2838" y="786.6">52.6%</text>
</g>
<rect x="1211" y="1002" width="27.2" height="60" fill="#d0202e"/>
<rect x="1211" y="1002" width="27.2" height="9" fill="#c03c10"/>
<rect x="1211" y="1053.5" width="27.2" height="8.5" fill="#c82848"/>
<rect x="1211" y="1061.5" width="27.2" height="60" fill="#e03c20"/>
<rect x="1211" y="1061.5" width="27.2" height="9" fill="#c85020"/>
<rect x="1211" y="1113" width="27.2" height="8.5" fill="#c85020"/>
<rect x="1211" y="1060" width="27.2" height="3" fill="#1a1a00" opacity="0.28"/>
<rect x="1211" y="1121" width="27.2" height="60" fill="#f2b022"/>
<rect x="1211" y="1121" width="27.2" height="9" fill="#f8b428"/>
<rect x="1211" y="1172.5" width="27.2" height="8.5" fill="#d8b040"/>
<rect x="1211" y="1119.5" width="27.2" height="3" fill="#1a1a00" opacity="0.28"/>
<rect x="1211" y="1180.5" width="27.2" height="60" fill="#d0e838"/>
<rect x="1211" y="1180.5" width="27.2" height="9" fill="#b8b420"/>
<rect x="1211" y="1232" width="27.2" height="8.5" fill="#d8e060"/>
<rect x="1211" y="1179" width="27.2" height="3" fill="#1a1a00" opacity="0.28"/>
<rect x="1211" y="1240" width="27.2" height="60" fill="#88c832"/>
<rect x="1211" y="1240" width="27.2" height="9" fill="#8a9018"/>
<rect x="1211" y="1291.5" width="27.2" height="8.5" fill="#80c038"/>
<rect x="1211" y="1238.5" width="27.2" height="3" fill="#1a1a00" opacity="0.28"/>
<rect x="1211" y="1299.5" width="27.2" height="60" fill="#58c048"/>
<rect x="1211" y="1299.5" width="27.2" height="9" fill="#3aa038"/>
<rect x="1211" y="1351" width="27.2" height="8.5" fill="#40a838"/>
<rect x="1211" y="1298" width="27.2" height="3" fill="#1a1a00" opacity="0.28"/>
<rect x="1211" y="1359" width="27.2" height="60" fill="#58c048"/>
<rect x="1211" y="1359" width="27.2" height="9" fill="#40a838"/>
<rect x="1211" y="1410.5" width="27.2" height="8.5" fill="#40a838"/>
<rect x="1211" y="1357.5" width="27.2" height="3" fill="#1a1a00" opacity="0.28"/>
<rect x="1211" y="1418.5" width="27.2" height="60" fill="#58b868"/>
<rect x="1211" y="1418.5" width="27.2" height="9" fill="#48a858"/>
<rect x="1211" y="1470" width="27.2" height="8.5" fill="#50b070"/>
<rect x="1211" y="1417" width="27.2" height="3" fill="#1a1a00" opacity="0.28"/>
<rect x="1211" y="1478" width="27.2" height="60" fill="#68b8c8"/>
<rect x="1211" y="1478" width="27.2" height="9" fill="#68b0d8"/>
<rect x="1211" y="1529.5" width="27.2" height="8.5" fill="#60b0c0"/>
<rect x="1211" y="1476.5" width="27.2" height="3" fill="#1a1a00" opacity="0.28"/>
<rect x="1211" y="1537.5" width="27.2" height="60" fill="#68b8c8"/>
<rect x="1211" y="1537.5" width="27.2" height="9" fill="#4898a0"/>
<rect x="1211" y="1589" width="27.2" height="8.5" fill="#58a8d0"/>
<rect x="1211" y="1536" width="27.2" height="3" fill="#1a1a00" opacity="0.28"/>
<rect x="1211" y="1597" width="27.2" height="60" fill="#3c5aa8"/>
<rect x="1211" y="1597" width="27.2" height="9" fill="#2c4898"/>
<rect x="1211" y="1648.5" width="27.2" height="8.5" fill="#3c5aa8"/>
<rect x="1211" y="1595.5" width="27.2" height="3" fill="#1a1a00" opacity="0.28"/>
<rect x="1211" y="1656.5" width="27.2" height="59.5" fill="#28448c"/>
<rect x="1211" y="1656.5" width="27.2" height="9" fill="#283c88"/>
<rect x="1211" y="1655" width="27.2" height="3" fill="#1a1a00" opacity="0.28"/>
<rect x="1211" y="1002" width="2.5" height="714" fill="#4a4a4a" opacity="0.85"/>
<rect x="1235.7" y="1002" width="2.5" height="714" fill="#2a2a2a" opacity="0.7"/>
<rect x="1238.2" y="999.5" width="49.8" height="7" fill="#ffffff" opacity="0.7"/>
<rect x="1238.2" y="1001" width="45.8" height="4" fill="#cfcfcf"/>
<rect x="1238.2" y="1059" width="49.8" height="7" fill="#ffffff" opacity="0.7"/>
<rect x="1238.2" y="1060.5" width="45.8" height="4" fill="#cfcfcf"/>
<rect x="1238.2" y="1118.5" width="49.8" height="7" fill="#ffffff" opacity="0.7"/>
<rect x="1238.2" y="1120" width="45.8" height="4" fill="#cfcfcf"/>
<rect x="1238.2" y="1178" width="49.8" height="7" fill="#ffffff" opacity="0.7"/>
<rect x="1238.2" y="1179.5" width="45.8" height="4" fill="#cfcfcf"/>
<rect x="1238.2" y="1237.5" width="49.8" height="7" fill="#ffffff" opacity="0.7"/>
<rect x="1238.2" y="1239" width="45.8" height="4" fill="#cfcfcf"/>
<rect x="1238.2" y="1297" width="49.8" height="7" fill="#ffffff" opacity="0.7"/>
<rect x="1238.2" y="1298.5" width="45.8" height="4" fill="#cfcfcf"/>
<rect x="1238.2" y="1356.5" width="49.8" height="7" fill="#ffffff" opacity="0.7"/>
<rect x="1238.2" y="1358" width="45.8" height="4" fill="#cfcfcf"/>
<rect x="1238.2" y="1416" width="49.8" height="7" fill="#ffffff" opacity="0.7"/>
<rect x="1238.2" y="1417.5" width="45.8" height="4" fill="#cfcfcf"/>
<rect x="1238.2" y="1475.5" width="49.8" height="7" fill="#ffffff" opacity="0.7"/>
<rect x="1238.2" y="1477" width="45.8" height="4" fill="#cfcfcf"/>
<rect x="1238.2" y="1535" width="49.8" height="7" fill="#ffffff" opacity="0.7"/>
<rect x="1238.2" y="1536.5" width="45.8" height="4" fill="#cfcfcf"/>
<rect x="1238.2" y="1594.5" width="49.8" height="7" fill="#ffffff" opacity="0.7"/>
<rect x="1238.2" y="1596" width="45.8" height="4" fill="#cfcfcf"/>
<rect x="1238.2" y="1654" width="49.8" height="7" fill="#ffffff" opacity="0.7"/>
<rect x="1238.2" y="1655.5" width="45.8" height="4" fill="#cfcfcf"/>
<rect x="1238.2" y="1713.5" width="49.8" height="7" fill="#ffffff" opacity="0.7"/>
<rect x="1238.2" y="1715" width="45.8" height="4" fill="#cfcfcf"/>
<g fill="#141414">
<text x="1216" y="951" font-size="34.8px">SOLID STRAIH</text>
<text x="1216" y="985.5" font-size="34.8px">E-PLASTIC,Mone</text>
<text x="1289.7" y="1022.2" font-size="34.9px">+2.01072e−003</text>
<text x="1289.7" y="1081.9" font-size="34.9px">+1. 84316e−003</text>
<text x="1289.7" y="1141.5" font-size="34.9px">+1.67560e−003</text>
<text x="1289.7" y="1201.2" font-size="34.9px">+1.50804e−003</text>
<text x="1289.7" y="1260.9" font-size="34.9px">+1.34048e−003</text>
<text x="1289.7" y="1320.6" font-size="34.9px">+1.17292e−003</text>
<text x="1289.7" y="1380.2" font-size="34.9px">+1.00536e−003</text>
<text x="1289.7" y="1439.9" font-size="34.9px">+8.37802e−004</text>
<text x="1289.7" y="1499.6" font-size="34.9px">+6.70241e−004</text>
<text x="1289.7" y="1559.2" font-size="34.9px">+5.02681e−004</text>
<text x="1289.7" y="1618.9" font-size="34.9px">+3.35121e−004</text>
<text x="1289.7" y="1678.6" font-size="34.9px">+1.67560e−004</text>
<text x="1289.7" y="1738.2" font-size="34.9px">+0.00000e+000</text>
</g>
<g font-size="34.6px" fill="#c01e46">
<text x="1244" y="1053.2">0.0%</text>
<text x="1244" y="1112.9">0.1%</text>
<text x="1244" y="1172.5">0.2%</text>
<text x="1244" y="1232.2">0.4%</text>
<text x="1244" y="1291.9">0.6%</text>
<text x="1244" y="1351.6">1.1%</text>
<text x="1244" y="1411.2">1.7%</text>
<text x="1244" y="1470.9">2.6%</text>
<text x="1244" y="1530.6">3.4%</text>
<text x="1244" y="1590.2">4.2%</text>
<text x="1244" y="1649.9">54.0%</text>
<text x="1244" y="1709.6">51.6%</text>
</g>
<rect x="2794.5" y="1018.5" width="26.5" height="59.9167" fill="#d0202e"/>
<rect x="2794.5" y="1018.5" width="26.5" height="9" fill="#c03c10"/>
<rect x="2794.5" y="1069.92" width="26.5" height="8.5" fill="#c82848"/>
<rect x="2794.5" y="1077.92" width="26.5" height="59.9167" fill="#e03c20"/>
<rect x="2794.5" y="1077.92" width="26.5" height="9" fill="#c85020"/>
<rect x="2794.5" y="1129.33" width="26.5" height="8.5" fill="#c85020"/>
<rect x="2794.5" y="1076.42" width="26.5" height="3" fill="#1a1a00" opacity="0.28"/>
<rect x="2794.5" y="1137.33" width="26.5" height="59.9167" fill="#f2b022"/>
<rect x="2794.5" y="1137.33" width="26.5" height="9" fill="#f8b428"/>
<rect x="2794.5" y="1188.75" width="26.5" height="8.5" fill="#d8b040"/>
<rect x="2794.5" y="1135.83" width="26.5" height="3" fill="#1a1a00" opacity="0.28"/>
<rect x="2794.5" y="1196.75" width="26.5" height="59.9167" fill="#d0e838"/>
<rect x="2794.5" y="1196.75" width="26.5" height="9" fill="#b8b420"/>
<rect x="2794.5" y="1248.17" width="26.5" height="8.5" fill="#d8e060"/>
<rect x="2794.5" y="1195.25" width="26.5" height="3" fill="#1a1a00" opacity="0.28"/>
<rect x="2794.5" y="1256.17" width="26.5" height="59.9167" fill="#88c832"/>
<rect x="2794.5" y="1256.17" width="26.5" height="9" fill="#8a9018"/>
<rect x="2794.5" y="1307.58" width="26.5" height="8.5" fill="#80c038"/>
<rect x="2794.5" y="1254.67" width="26.5" height="3" fill="#1a1a00" opacity="0.28"/>
<rect x="2794.5" y="1315.58" width="26.5" height="59.9167" fill="#58c048"/>
<rect x="2794.5" y="1315.58" width="26.5" height="9" fill="#3aa038"/>
<rect x="2794.5" y="1367" width="26.5" height="8.5" fill="#40a838"/>
<rect x="2794.5" y="1314.08" width="26.5" height="3" fill="#1a1a00" opacity="0.28"/>
<rect x="2794.5" y="1375" width="26.5" height="59.9167" fill="#58c048"/>
<rect x="2794.5" y="1375" width="26.5" height="9" fill="#40a838"/>
<rect x="2794.5" y="1426.42" width="26.5" height="8.5" fill="#40a838"/>
<rect x="2794.5" y="1373.5" width="26.5" height="3" fill="#1a1a00" opacity="0.28"/>
<rect x="2794.5" y="1434.42" width="26.5" height="59.9167" fill="#58b868"/>
<rect x="2794.5" y="1434.42" width="26.5" height="9" fill="#48a858"/>
<rect x="2794.5" y="1485.83" width="26.5" height="8.5" fill="#50b070"/>
<rect x="2794.5" y="1432.92" width="26.5" height="3" fill="#1a1a00" opacity="0.28"/>
<rect x="2794.5" y="1493.83" width="26.5" height="59.9167" fill="#68b8c8"/>
<rect x="2794.5" y="1493.83" width="26.5" height="9" fill="#68b0d8"/>
<rect x="2794.5" y="1545.25" width="26.5" height="8.5" fill="#60b0c0"/>
<rect x="2794.5" y="1492.33" width="26.5" height="3" fill="#1a1a00" opacity="0.28"/>
<rect x="2794.5" y="1553.25" width="26.5" height="59.9167" fill="#68b8c8"/>
<rect x="2794.5" y="1553.25" width="26.5" height="9" fill="#4898a0"/>
<rect x="2794.5" y="1604.67" width="26.5" height="8.5" fill="#58a8d0"/>
<rect x="2794.5" y="1551.75" width="26.5" height="3" fill="#1a1a00" opacity="0.28"/>
<rect x="2794.5" y="1612.67" width="26.5" height="59.9167" fill="#3c5aa8"/>
<rect x="2794.5" y="1612.67" width="26.5" height="9" fill="#2c4898"/>
<rect x="2794.5" y="1664.08" width="26.5" height="8.5" fill="#3c5aa8"/>
<rect x="2794.5" y="1611.17" width="26.5" height="3" fill="#1a1a00" opacity="0.28"/>
<rect x="2794.5" y="1672.08" width="26.5" height="59.4167" fill="#28448c"/>
<rect x="2794.5" y="1672.08" width="26.5" height="9" fill="#283c88"/>
<rect x="2794.5" y="1670.58" width="26.5" height="3" fill="#1a1a00" opacity="0.28"/>
<rect x="2794.5" y="1018.5" width="2.5" height="713" fill="#4a4a4a" opacity="0.85"/>
<rect x="2818.5" y="1018.5" width="2.5" height="713" fill="#2a2a2a" opacity="0.7"/>
<rect x="2821" y="1016" width="54" height="7" fill="#ffffff" opacity="0.7"/>
<rect x="2821" y="1017.5" width="50" height="4" fill="#cfcfcf"/>
<rect x="2821" y="1075.42" width="54" height="7" fill="#ffffff" opacity="0.7"/>
<rect x="2821" y="1076.92" width="50" height="4" fill="#cfcfcf"/>
<rect x="2821" y="1134.83" width="54" height="7" fill="#ffffff" opacity="0.7"/>
<rect x="2821" y="1136.33" width="50" height="4" fill="#cfcfcf"/>
<rect x="2821" y="1194.25" width="54" height="7" fill="#ffffff" opacity="0.7"/>
<rect x="2821" y="1195.75" width="50" height="4" fill="#cfcfcf"/>
<rect x="2821" y="1253.67" width="54" height="7" fill="#ffffff" opacity="0.7"/>
<rect x="2821" y="1255.17" width="50" height="4" fill="#cfcfcf"/>
<rect x="2821" y="1313.08" width="54" height="7" fill="#ffffff" opacity="0.7"/>
<rect x="2821" y="1314.58" width="50" height="4" fill="#cfcfcf"/>
<rect x="2821" y="1372.5" width="54" height="7" fill="#ffffff" opacity="0.7"/>
<rect x="2821" y="1374" width="50" height="4" fill="#cfcfcf"/>
<rect x="2821" y="1431.92" width="54" height="7" fill="#ffffff" opacity="0.7"/>
<rect x="2821" y="1433.42" width="50" height="4" fill="#cfcfcf"/>
<rect x="2821" y="1491.33" width="54" height="7" fill="#ffffff" opacity="0.7"/>
<rect x="2821" y="1492.83" width="50" height="4" fill="#cfcfcf"/>
<rect x="2821" y="1550.75" width="54" height="7" fill="#ffffff" opacity="0.7"/>
<rect x="2821" y="1552.25" width="50" height="4" fill="#cfcfcf"/>
<rect x="2821" y="1610.17" width="54" height="7" fill="#ffffff" opacity="0.7"/>
<rect x="2821" y="1611.67" width="50" height="4" fill="#cfcfcf"/>
<rect x="2821" y="1669.58" width="54" height="7" fill="#ffffff" opacity="0.7"/>
<rect x="2821" y="1671.08" width="50" height="4" fill="#cfcfcf"/>
<rect x="2821" y="1729" width="54" height="7" fill="#ffffff" opacity="0.7"/>
<rect x="2821" y="1730.5" width="50" height="4" fill="#cfcfcf"/>
<g fill="#141414">
<text x="2810" y="951" font-size="34.8px">SOLID STRAIH</text>
<text x="2810" y="985.5" font-size="34.8px">E-PLASTIC,Mone</text>
<text x="2883.7" y="1022.2" font-size="34.9px">+2.05085e−003</text>
<text x="2883.7" y="1081.9" font-size="34.9px">+1.87995e−003</text>
<text x="2883.7" y="1141.5" font-size="34.9px">+1.70904e−003</text>
<text x="2883.7" y="1201.2" font-size="34.9px">+1.53814e−003</text>
<text x="2883.7" y="1260.9" font-size="34.9px">+1.36723e−003</text>
<text x="2883.7" y="1320.6" font-size="34.9px">+1.19633e−003</text>
<text x="2883.7" y="1380.2" font-size="34.9px">+1.02543e−003</text>
<text x="2883.7" y="1439.9" font-size="34.9px">+8.54521e−004</text>
<text x="2883.7" y="1499.6" font-size="34.9px">+6.83617e−004</text>
<text x="2883.7" y="1559.2" font-size="34.9px">+5.12713e−004</text>
<text x="2883.7" y="1618.9" font-size="34.9px">+3.41809e−004</text>
<text x="2883.7" y="1678.6" font-size="34.9px">+1.70904e−004</text>
<text x="2883.7" y="1738.2" font-size="34.9px">+0.00000e+000</text>
</g>
<g font-size="34.6px" fill="#c01e46">
<text x="2838" y="1053.2">0.0%</text>
<text x="2838" y="1112.9">0.1%</text>
<text x="2838" y="1172.5">0.2%</text>
<text x="2838" y="1232.2">0.4%</text>
<text x="2838" y="1291.9">0.7%</text>
<text x="2838" y="1351.6">1.2%</text>
<text x="2838" y="1411.2">1.8%</text>
<text x="2838" y="1470.9">2.7%</text>
<text x="2838" y="1530.6">3.5%</text>
<text x="2838" y="1590.2">4.3%</text>
<text x="2838" y="1649.9">35.5%</text>
<text x="2838" y="1709.6">49.7%</text>
</g>
<rect x="1211" y="1942" width="26.6" height="60" fill="#d0202e"/>
<rect x="1211" y="1942" width="26.6" height="9" fill="#c03c10"/>
<rect x="1211" y="1993.5" width="26.6" height="8.5" fill="#c82848"/>
<rect x="1211" y="2001.5" width="26.6" height="60" fill="#e03c20"/>
<rect x="1211" y="2001.5" width="26.6" height="9" fill="#c85020"/>
<rect x="1211" y="2053" width="26.6" height="8.5" fill="#c85020"/>
<rect x="1211" y="2000" width="26.6" height="3" fill="#1a1a00" opacity="0.28"/>
<rect x="1211" y="2061" width="26.6" height="60" fill="#f2b022"/>
<rect x="1211" y="2061" width="26.6" height="9" fill="#f8b428"/>
<rect x="1211" y="2112.5" width="26.6" height="8.5" fill="#d8b040"/>
<rect x="1211" y="2059.5" width="26.6" height="3" fill="#1a1a00" opacity="0.28"/>
<rect x="1211" y="2120.5" width="26.6" height="60" fill="#d0e838"/>
<rect x="1211" y="2120.5" width="26.6" height="9" fill="#b8b420"/>
<rect x="1211" y="2172" width="26.6" height="8.5" fill="#d8e060"/>
<rect x="1211" y="2119" width="26.6" height="3" fill="#1a1a00" opacity="0.28"/>
<rect x="1211" y="2180" width="26.6" height="60" fill="#88c832"/>
<rect x="1211" y="2180" width="26.6" height="9" fill="#8a9018"/>
<rect x="1211" y="2231.5" width="26.6" height="8.5" fill="#80c038"/>
<rect x="1211" y="2178.5" width="26.6" height="3" fill="#1a1a00" opacity="0.28"/>
<rect x="1211" y="2239.5" width="26.6" height="60" fill="#58c048"/>
<rect x="1211" y="2239.5" width="26.6" height="9" fill="#3aa038"/>
<rect x="1211" y="2291" width="26.6" height="8.5" fill="#40a838"/>
<rect x="1211" y="2238" width="26.6" height="3" fill="#1a1a00" opacity="0.28"/>
<rect x="1211" y="2299" width="26.6" height="60" fill="#58c048"/>
<rect x="1211" y="2299" width="26.6" height="9" fill="#40a838"/>
<rect x="1211" y="2350.5" width="26.6" height="8.5" fill="#40a838"/>
<rect x="1211" y="2297.5" width="26.6" height="3" fill="#1a1a00" opacity="0.28"/>
<rect x="1211" y="2358.5" width="26.6" height="60" fill="#58b868"/>
<rect x="1211" y="2358.5" width="26.6" height="9" fill="#48a858"/>
<rect x="1211" y="2410" width="26.6" height="8.5" fill="#50b070"/>
<rect x="1211" y="2357" width="26.6" height="3" fill="#1a1a00" opacity="0.28"/>
<rect x="1211" y="2418" width="26.6" height="60" fill="#68b8c8"/>
<rect x="1211" y="2418" width="26.6" height="9" fill="#68b0d8"/>
<rect x="1211" y="2469.5" width="26.6" height="8.5" fill="#60b0c0"/>
<rect x="1211" y="2416.5" width="26.6" height="3" fill="#1a1a00" opacity="0.28"/>
<rect x="1211" y="2477.5" width="26.6" height="60" fill="#68b8c8"/>
<rect x="1211" y="2477.5" width="26.6" height="9" fill="#4898a0"/>
<rect x="1211" y="2529" width="26.6" height="8.5" fill="#58a8d0"/>
<rect x="1211" y="2476" width="26.6" height="3" fill="#1a1a00" opacity="0.28"/>
<rect x="1211" y="2537" width="26.6" height="60" fill="#3c5aa8"/>
<rect x="1211" y="2537" width="26.6" height="9" fill="#2c4898"/>
<rect x="1211" y="2588.5" width="26.6" height="8.5" fill="#3c5aa8"/>
<rect x="1211" y="2535.5" width="26.6" height="3" fill="#1a1a00" opacity="0.28"/>
<rect x="1211" y="2596.5" width="26.6" height="59.5" fill="#28448c"/>
<rect x="1211" y="2596.5" width="26.6" height="9" fill="#283c88"/>
<rect x="1211" y="2595" width="26.6" height="3" fill="#1a1a00" opacity="0.28"/>
<rect x="1211" y="1942" width="2.5" height="714" fill="#4a4a4a" opacity="0.85"/>
<rect x="1235.1" y="1942" width="2.5" height="714" fill="#2a2a2a" opacity="0.7"/>
<rect x="1237.6" y="1939.5" width="50.4" height="7" fill="#ffffff" opacity="0.7"/>
<rect x="1237.6" y="1941" width="46.4" height="4" fill="#cfcfcf"/>
<rect x="1237.6" y="1999" width="50.4" height="7" fill="#ffffff" opacity="0.7"/>
<rect x="1237.6" y="2000.5" width="46.4" height="4" fill="#cfcfcf"/>
<rect x="1237.6" y="2058.5" width="50.4" height="7" fill="#ffffff" opacity="0.7"/>
<rect x="1237.6" y="2060" width="46.4" height="4" fill="#cfcfcf"/>
<rect x="1237.6" y="2118" width="50.4" height="7" fill="#ffffff" opacity="0.7"/>
<rect x="1237.6" y="2119.5" width="46.4" height="4" fill="#cfcfcf"/>
<rect x="1237.6" y="2177.5" width="50.4" height="7" fill="#ffffff" opacity="0.7"/>
<rect x="1237.6" y="2179" width="46.4" height="4" fill="#cfcfcf"/>
<rect x="1237.6" y="2237" width="50.4" height="7" fill="#ffffff" opacity="0.7"/>
<rect x="1237.6" y="2238.5" width="46.4" height="4" fill="#cfcfcf"/>
<rect x="1237.6" y="2296.5" width="50.4" height="7" fill="#ffffff" opacity="0.7"/>
<rect x="1237.6" y="2298" width="46.4" height="4" fill="#cfcfcf"/>
<rect x="1237.6" y="2356" width="50.4" height="7" fill="#ffffff" opacity="0.7"/>
<rect x="1237.6" y="2357.5" width="46.4" height="4" fill="#cfcfcf"/>
<rect x="1237.6" y="2415.5" width="50.4" height="7" fill="#ffffff" opacity="0.7"/>
<rect x="1237.6" y="2417" width="46.4" height="4" fill="#cfcfcf"/>
<rect x="1237.6" y="2475" width="50.4" height="7" fill="#ffffff" opacity="0.7"/>
<rect x="1237.6" y="2476.5" width="46.4" height="4" fill="#cfcfcf"/>
<rect x="1237.6" y="2534.5" width="50.4" height="7" fill="#ffffff" opacity="0.7"/>
<rect x="1237.6" y="2536" width="46.4" height="4" fill="#cfcfcf"/>
<rect x="1237.6" y="2594" width="50.4" height="7" fill="#ffffff" opacity="0.7"/>
<rect x="1237.6" y="2595.5" width="46.4" height="4" fill="#cfcfcf"/>
<rect x="1237.6" y="2653.5" width="50.4" height="7" fill="#ffffff" opacity="0.7"/>
<rect x="1237.6" y="2655" width="46.4" height="4" fill="#cfcfcf"/>
<g fill="#141414">
<text x="1216" y="1881.3" font-size="34.8px">SOLID STRAIH</text>
<text x="1216" y="1915.8" font-size="34.8px">E-PLASTIC,Mone</text>
<text x="1289.7" y="1952.5" font-size="34.9px">+4.19936e−003</text>
<text x="1289.7" y="2012.2" font-size="34.9px">+3.84941e−003</text>
<text x="1289.7" y="2071.8" font-size="34.9px">+3.49946e−003</text>
<text x="1289.7" y="2131.5" font-size="34.9px">+3.14952e−003</text>
<text x="1289.7" y="2191.2" font-size="34.9px">−2.79957e−003</text>
<text x="1289.7" y="2250.8" font-size="34.9px">+2.44962e−003</text>
<text x="1289.7" y="2310.5" font-size="34.9px">+2.09968e−003</text>
<text x="1289.7" y="2370.2" font-size="34.9px">+1.74973e−003</text>
<text x="1289.7" y="2429.9" font-size="34.9px">+1.39979e−003</text>
<text x="1289.7" y="2489.5" font-size="34.9px">+1.04984e−003</text>
<text x="1289.7" y="2549.2" font-size="34.9px">+6.99893e−004</text>
<text x="1289.7" y="2608.9" font-size="34.9px">+3.49946e−004</text>
<text x="1289.7" y="2668.5" font-size="34.9px">+0.00000e+000</text>
</g>
<g font-size="34.6px" fill="#c01e46">
<text x="1244" y="1983.5">0.0%</text>
<text x="1244" y="2043.2">0.1%</text>
<text x="1244" y="2102.8">0.3%</text>
<text x="1244" y="2162.5">0.6%</text>
<text x="1244" y="2222.2">0.9%</text>
<text x="1244" y="2281.8">1.3%</text>
<text x="1244" y="2341.5">1.9%</text>
<text x="1244" y="2401.2">2.8%</text>
<text x="1244" y="2460.9">4.3%</text>
<text x="1244" y="2520.5">6.9%</text>
<text x="1244" y="2580.2">14.8%</text>
<text x="1244" y="2639.9">66.0%</text>
</g>
<rect x="2798.5" y="1937" width="27.5" height="60.4167" fill="#d0202e"/>
<rect x="2798.5" y="1937" width="27.5" height="9" fill="#c03c10"/>
<rect x="2798.5" y="1988.92" width="27.5" height="8.5" fill="#c82848"/>
<rect x="2818.5" y="1937" width="7.5" height="60.4167" fill="#f02c10" opacity="0.75"/>
<rect x="2798.5" y="1996.92" width="27.5" height="60.4167" fill="#e03c20"/>
<rect x="2798.5" y="1996.92" width="27.5" height="9" fill="#c85020"/>
<rect x="2798.5" y="2048.83" width="27.5" height="8.5" fill="#c85020"/>
<rect x="2818.5" y="1996.92" width="7.5" height="60.4167" fill="#d86020" opacity="0.75"/>
<rect x="2798.5" y="1995.42" width="27.5" height="3" fill="#1a1a00" opacity="0.28"/>
<rect x="2798.5" y="2056.83" width="27.5" height="60.4167" fill="#e0b04a"/>
<rect x="2798.5" y="2056.83" width="27.5" height="9" fill="#e8b050"/>
<rect x="2798.5" y="2108.75" width="27.5" height="8.5" fill="#d8b050"/>
<rect x="2818.5" y="2056.83" width="7.5" height="60.4167" fill="#d8b040" opacity="0.75"/>
<rect x="2798.5" y="2055.33" width="27.5" height="3" fill="#1a1a00" opacity="0.28"/>
<rect x="2798.5" y="2116.75" width="27.5" height="60.4167" fill="#d0e838"/>
<rect x="2798.5" y="2116.75" width="27.5" height="9" fill="#b8b420"/>
<rect x="2798.5" y="2168.67" width="27.5" height="8.5" fill="#d8e060"/>
<rect x="2818.5" y="2116.75" width="7.5" height="60.4167" fill="#c8d850" opacity="0.75"/>
<rect x="2798.5" y="2115.25" width="27.5" height="3" fill="#1a1a00" opacity="0.28"/>
<rect x="2798.5" y="2176.67" width="27.5" height="60.4167" fill="#88c832"/>
<rect x="2798.5" y="2176.67" width="27.5" height="9" fill="#8a9018"/>
<rect x="2798.5" y="2228.58" width="27.5" height="8.5" fill="#80c038"/>
<rect x="2818.5" y="2176.67" width="7.5" height="60.4167" fill="#a0b848" opacity="0.75"/>
<rect x="2798.5" y="2175.17" width="27.5" height="3" fill="#1a1a00" opacity="0.28"/>
<rect x="2798.5" y="2236.58" width="27.5" height="60.4167" fill="#58c048"/>
<rect x="2798.5" y="2236.58" width="27.5" height="9" fill="#3aa038"/>
<rect x="2798.5" y="2288.5" width="27.5" height="8.5" fill="#40a838"/>
<rect x="2818.5" y="2236.58" width="7.5" height="60.4167" fill="#40c030" opacity="0.75"/>
<rect x="2798.5" y="2235.08" width="27.5" height="3" fill="#1a1a00" opacity="0.28"/>
<rect x="2798.5" y="2296.5" width="27.5" height="60.4167" fill="#58c048"/>
<rect x="2798.5" y="2296.5" width="27.5" height="9" fill="#40a838"/>
<rect x="2798.5" y="2348.42" width="27.5" height="8.5" fill="#40a838"/>
<rect x="2818.5" y="2296.5" width="7.5" height="60.4167" fill="#40c030" opacity="0.75"/>
<rect x="2798.5" y="2295" width="27.5" height="3" fill="#1a1a00" opacity="0.28"/>
<rect x="2798.5" y="2356.42" width="27.5" height="60.4167" fill="#58b868"/>
<rect x="2798.5" y="2356.42" width="27.5" height="9" fill="#48a858"/>
<rect x="2798.5" y="2408.33" width="27.5" height="8.5" fill="#50b070"/>
<rect x="2818.5" y="2356.42" width="7.5" height="60.4167" fill="#48a890" opacity="0.75"/>
<rect x="2798.5" y="2354.92" width="27.5" height="3" fill="#1a1a00" opacity="0.28"/>
<rect x="2798.5" y="2416.33" width="27.5" height="60.4167" fill="#68b8c8"/>
<rect x="2798.5" y="2416.33" width="27.5" height="9" fill="#68b0d8"/>
<rect x="2798.5" y="2468.25" width="27.5" height="8.5" fill="#60b0c0"/>
<rect x="2818.5" y="2416.33" width="7.5" height="60.4167" fill="#60c8a8" opacity="0.75"/>
<rect x="2798.5" y="2414.83" width="27.5" height="3" fill="#1a1a00" opacity="0.28"/>
<rect x="2798.5" y="2476.25" width="27.5" height="60.4167" fill="#68b8c8"/>
<rect x="2798.5" y="2476.25" width="27.5" height="9" fill="#4898a0"/>
<rect x="2798.5" y="2528.17" width="27.5" height="8.5" fill="#58a8d0"/>
<rect x="2818.5" y="2476.25" width="7.5" height="60.4167" fill="#50a0e8" opacity="0.75"/>
<rect x="2798.5" y="2474.75" width="27.5" height="3" fill="#1a1a00" opacity="0.28"/>
<rect x="2798.5" y="2536.17" width="27.5" height="60.4167" fill="#3c5aa8"/>
<rect x="2798.5" y="2536.17" width="27.5" height="9" fill="#2c4898"/>
<rect x="2798.5" y="2588.08" width="27.5" height="8.5" fill="#3c5aa8"/>
<rect x="2818.5" y="2536.17" width="7.5" height="60.4167" fill="#5848b0" opacity="0.75"/>
<rect x="2798.5" y="2534.67" width="27.5" height="3" fill="#1a1a00" opacity="0.28"/>
<rect x="2798.5" y="2596.08" width="27.5" height="59.9167" fill="#28448c"/>
<rect x="2798.5" y="2596.08" width="27.5" height="9" fill="#283c88"/>
<rect x="2818.5" y="2596.08" width="7.5" height="59.9167" fill="#4838a0" opacity="0.75"/>
<rect x="2798.5" y="2594.58" width="27.5" height="3" fill="#1a1a00" opacity="0.28"/>
<rect x="2798.5" y="1937" width="2.5" height="719" fill="#4a4a4a" opacity="0.85"/>
<rect x="2826" y="1934.5" width="49" height="7" fill="#ffffff" opacity="0.7"/>
<rect x="2826" y="1936" width="45" height="4" fill="#cfcfcf"/>
<rect x="2826" y="1994.42" width="49" height="7" fill="#ffffff" opacity="0.7"/>
<rect x="2826" y="1995.92" width="45" height="4" fill="#cfcfcf"/>
<rect x="2826" y="2054.33" width="49" height="7" fill="#ffffff" opacity="0.7"/>
<rect x="2826" y="2055.83" width="45" height="4" fill="#cfcfcf"/>
<rect x="2826" y="2114.25" width="49" height="7" fill="#ffffff" opacity="0.7"/>
<rect x="2826" y="2115.75" width="45" height="4" fill="#cfcfcf"/>
<rect x="2826" y="2174.17" width="49" height="7" fill="#ffffff" opacity="0.7"/>
<rect x="2826" y="2175.67" width="45" height="4" fill="#cfcfcf"/>
<rect x="2826" y="2234.08" width="49" height="7" fill="#ffffff" opacity="0.7"/>
<rect x="2826" y="2235.58" width="45" height="4" fill="#cfcfcf"/>
<rect x="2826" y="2294" width="49" height="7" fill="#ffffff" opacity="0.7"/>
<rect x="2826" y="2295.5" width="45" height="4" fill="#cfcfcf"/>
<rect x="2826" y="2353.92" width="49" height="7" fill="#ffffff" opacity="0.7"/>
<rect x="2826" y="2355.42" width="45" height="4" fill="#cfcfcf"/>
<rect x="2826" y="2413.83" width="49" height="7" fill="#ffffff" opacity="0.7"/>
<rect x="2826" y="2415.33" width="45" height="4" fill="#cfcfcf"/>
<rect x="2826" y="2473.75" width="49" height="7" fill="#ffffff" opacity="0.7"/>
<rect x="2826" y="2475.25" width="45" height="4" fill="#cfcfcf"/>
<rect x="2826" y="2533.67" width="49" height="7" fill="#ffffff" opacity="0.7"/>
<rect x="2826" y="2535.17" width="45" height="4" fill="#cfcfcf"/>
<rect x="2826" y="2593.58" width="49" height="7" fill="#ffffff" opacity="0.7"/>
<rect x="2826" y="2595.08" width="45" height="4" fill="#cfcfcf"/>
<rect x="2826" y="2653.5" width="49" height="7" fill="#ffffff" opacity="0.7"/>
<rect x="2826" y="2655" width="45" height="4" fill="#cfcfcf"/>
<g fill="#141414">
<text x="2810" y="1882" font-size="34.8px">SOLID STRAIH</text>
<text x="2810" y="1916.5" font-size="34.8px">E-PLASTIC,Mone</text>
<text x="2883.7" y="1953.2" font-size="34.9px">+4.53950e−003</text>
<text x="2883.7" y="2012.9" font-size="34.9px">+4.16120e−003</text>
<text x="2883.7" y="2072.5" font-size="34.9px">+3.78291e−003</text>
<text x="2883.7" y="2132.2" font-size="34.9px">+3.40462e−003</text>
<text x="2883.7" y="2191.9" font-size="34.9px">+3.02633e−003</text>
<text x="2883.7" y="2251.6" font-size="34.9px">+2.64804e−003</text>
<text x="2883.7" y="2311.2" font-size="34.9px">+2.26975e−003</text>
<text x="2883.7" y="2370.9" font-size="34.9px">+1.89146e−003</text>
<text x="2883.7" y="2430.6" font-size="34.9px">+1.51317e−003</text>
<text x="2883.7" y="2490.2" font-size="34.9px">+1.13487e−003</text>
<text x="2883.7" y="2549.9" font-size="34.9px">+7.56583e−004</text>
<text x="2883.7" y="2609.6" font-size="34.9px">+3.78291e−004</text>
<text x="2883.7" y="2669.2" font-size="34.9px">+0.00000e+000</text>
</g>
<g font-size="34.6px" fill="#c01e46">
<text x="2838" y="1984.2">0.0%</text>
<text x="2838" y="2043.9">0.1%</text>
<text x="2838" y="2103.5">0.4%</text>
<text x="2838" y="2163.2">0.7%</text>
<text x="2838" y="2222.9">1.1%</text>
<text x="2838" y="2282.6">1.5%</text>
<text x="2838" y="2342.2">2.1%</text>
<text x="2838" y="2401.9">3.0%</text>
<text x="2838" y="2461.6">4.6%</text>
<text x="2838" y="2521.2">7.5%</text>
<text x="2838" y="2580.9">16.3%</text>
<text x="2838" y="2640.6">62.7%</text>
</g>
<g font-size="54.5px" fill="#111">
<text x="634.5" y="883">(a) CS26</text>
<text x="2218.5" y="883">(b) CS27</text>
<text x="634.5" y="1808.5">(c) CS28</text>
<text x="2218.5" y="1809">(d) CS29</text>
<text x="634.5" y="2732">(e) CS63</text>
<text x="2223.5" y="2732">(f) CS68</text>
</g>
</svg></body></html>
